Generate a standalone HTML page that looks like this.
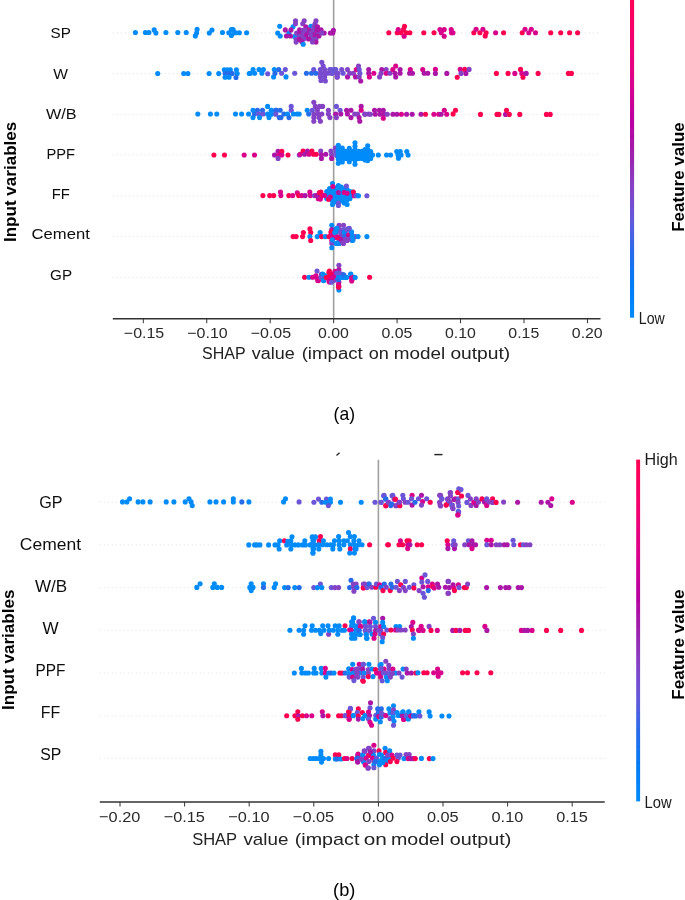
<!DOCTYPE html>
<html><head><meta charset="utf-8"><style>
html,body{margin:0;padding:0;background:#fff;}
body{width:685px;height:900px;overflow:hidden;}
svg{display:block;}
text{font-family:"Liberation Sans",sans-serif;}
</style></head><body>
<svg width="685" height="900" viewBox="0 0 685 900">
<defs><filter id="bl" x="-5%" y="-5%" width="110%" height="110%"><feGaussianBlur stdDeviation="0.45"/></filter><linearGradient id="cbg" x1="0" y1="0" x2="0" y2="1"><stop offset="0.00" stop-color="#ff0051"/><stop offset="0.10" stop-color="#f80067"/><stop offset="0.20" stop-color="#e9007c"/><stop offset="0.30" stop-color="#d40090"/><stop offset="0.40" stop-color="#b900a0"/><stop offset="0.50" stop-color="#9d22ac"/><stop offset="0.60" stop-color="#8542c5"/><stop offset="0.70" stop-color="#6459da"/><stop offset="0.80" stop-color="#266cea"/><stop offset="0.90" stop-color="#007cf5"/><stop offset="1.00" stop-color="#008bfb"/></linearGradient></defs>
<rect width="685" height="900" fill="#fff"/>
<g filter="url(#bl)">
<line x1="112.8" y1="32.8" x2="600.5" y2="32.8" stroke="#d4d4d4" stroke-width="0.7" stroke-dasharray="1 3"/>
<line x1="112.8" y1="73.5" x2="600.5" y2="73.5" stroke="#d4d4d4" stroke-width="0.7" stroke-dasharray="1 3"/>
<line x1="112.8" y1="114.3" x2="600.5" y2="114.3" stroke="#d4d4d4" stroke-width="0.7" stroke-dasharray="1 3"/>
<line x1="112.8" y1="155.0" x2="600.5" y2="155.0" stroke="#d4d4d4" stroke-width="0.7" stroke-dasharray="1 3"/>
<line x1="112.8" y1="195.7" x2="600.5" y2="195.7" stroke="#d4d4d4" stroke-width="0.7" stroke-dasharray="1 3"/>
<line x1="112.8" y1="236.4" x2="600.5" y2="236.4" stroke="#d4d4d4" stroke-width="0.7" stroke-dasharray="1 3"/>
<line x1="112.8" y1="277.2" x2="600.5" y2="277.2" stroke="#d4d4d4" stroke-width="0.7" stroke-dasharray="1 3"/>
<line x1="333.65" y1="-10" x2="333.65" y2="318.7" stroke="#a0a0a0" stroke-width="1.6"/>
<circle cx="135.4" cy="32.5" r="2.55" fill="#008bfb"/>
<circle cx="145.4" cy="32.5" r="2.55" fill="#008bfb"/>
<circle cx="148.9" cy="32.5" r="2.55" fill="#008bfb"/>
<circle cx="154.2" cy="29.9" r="2.55" fill="#008bfb"/>
<circle cx="155.9" cy="33.0" r="2.55" fill="#008bfb"/>
<circle cx="165.9" cy="32.5" r="2.55" fill="#008bfb"/>
<circle cx="177.8" cy="32.5" r="2.55" fill="#008bfb"/>
<circle cx="186.2" cy="32.5" r="2.55" fill="#008bfb"/>
<circle cx="197.1" cy="29.4" r="2.55" fill="#008bfb"/>
<circle cx="196.6" cy="33.0" r="2.55" fill="#008bfb"/>
<circle cx="195.3" cy="35.9" r="2.55" fill="#008bfb"/>
<circle cx="209.3" cy="33.0" r="2.55" fill="#008bfb"/>
<circle cx="212.0" cy="30.0" r="2.55" fill="#008bfb"/>
<circle cx="222.5" cy="32.5" r="2.55" fill="#008bfb"/>
<circle cx="228.8" cy="32.8" r="2.55" fill="#008bfb"/>
<circle cx="231.4" cy="29.6" r="2.55" fill="#008bfb"/>
<circle cx="233.1" cy="29.6" r="2.55" fill="#008bfb"/>
<circle cx="231.4" cy="35.4" r="2.55" fill="#008bfb"/>
<circle cx="234.0" cy="32.8" r="2.55" fill="#008bfb"/>
<circle cx="235.8" cy="32.8" r="2.55" fill="#008bfb"/>
<circle cx="239.3" cy="32.8" r="2.55" fill="#008bfb"/>
<circle cx="246.6" cy="32.8" r="2.55" fill="#008bfb"/>
<circle cx="279.7" cy="26.3" r="2.55" fill="#008bfb"/>
<circle cx="277.7" cy="33.0" r="2.55" fill="#008bfb"/>
<circle cx="280.2" cy="36.0" r="2.55" fill="#008bfb"/>
<circle cx="293.0" cy="26.8" r="2.55" fill="#008bfb"/>
<circle cx="288.9" cy="33.0" r="2.55" fill="#008bfb"/>
<circle cx="294.5" cy="36.5" r="2.55" fill="#008bfb"/>
<circle cx="310.9" cy="26.3" r="2.55" fill="#008bfb"/>
<circle cx="285.3" cy="29.9" r="2.55" fill="#aa17a7"/>
<circle cx="286.4" cy="36.0" r="2.55" fill="#aa17a7"/>
<circle cx="290.4" cy="36.0" r="2.55" fill="#aa17a7"/>
<circle cx="291.0" cy="29.9" r="2.55" fill="#aa17a7"/>
<circle cx="295.5" cy="20.7" r="2.55" fill="#8542c5"/>
<circle cx="295.5" cy="23.8" r="2.55" fill="#8542c5"/>
<circle cx="304.2" cy="20.7" r="2.55" fill="#8542c5"/>
<circle cx="302.7" cy="23.8" r="2.55" fill="#8542c5"/>
<circle cx="316.0" cy="20.7" r="2.55" fill="#8542c5"/>
<circle cx="315.0" cy="23.8" r="2.55" fill="#8542c5"/>
<circle cx="305.8" cy="26.8" r="2.55" fill="#aa17a7"/>
<circle cx="299.6" cy="29.9" r="2.55" fill="#aa17a7"/>
<circle cx="302.7" cy="30.4" r="2.55" fill="#8542c5"/>
<circle cx="308.8" cy="29.9" r="2.55" fill="#aa17a7"/>
<circle cx="296.6" cy="33.0" r="2.55" fill="#8542c5"/>
<circle cx="299.6" cy="33.0" r="2.55" fill="#aa17a7"/>
<circle cx="303.7" cy="33.0" r="2.55" fill="#8542c5"/>
<circle cx="307.3" cy="33.0" r="2.55" fill="#aa17a7"/>
<circle cx="310.9" cy="33.0" r="2.55" fill="#8542c5"/>
<circle cx="315.0" cy="33.0" r="2.55" fill="#aa17a7"/>
<circle cx="318.0" cy="33.0" r="2.55" fill="#8542c5"/>
<circle cx="321.1" cy="29.9" r="2.55" fill="#aa17a7"/>
<circle cx="324.2" cy="33.0" r="2.55" fill="#aa17a7"/>
<circle cx="330.3" cy="33.0" r="2.55" fill="#aa17a7"/>
<circle cx="333.4" cy="30.4" r="2.55" fill="#aa17a7"/>
<circle cx="332.8" cy="33.0" r="2.55" fill="#aa17a7"/>
<circle cx="299.1" cy="36.0" r="2.55" fill="#8542c5"/>
<circle cx="305.8" cy="36.0" r="2.55" fill="#aa17a7"/>
<circle cx="310.9" cy="36.0" r="2.55" fill="#8542c5"/>
<circle cx="315.0" cy="36.0" r="2.55" fill="#aa17a7"/>
<circle cx="296.1" cy="39.6" r="2.55" fill="#8542c5"/>
<circle cx="296.1" cy="42.1" r="2.55" fill="#8542c5"/>
<circle cx="303.7" cy="39.1" r="2.55" fill="#8542c5"/>
<circle cx="301.7" cy="41.6" r="2.55" fill="#aa17a7"/>
<circle cx="311.9" cy="39.1" r="2.55" fill="#8542c5"/>
<circle cx="316.0" cy="39.1" r="2.55" fill="#8542c5"/>
<circle cx="316.0" cy="42.1" r="2.55" fill="#aa17a7"/>
<circle cx="314.0" cy="26.8" r="2.55" fill="#8542c5"/>
<circle cx="317.5" cy="26.8" r="2.55" fill="#aa17a7"/>
<circle cx="319.0" cy="36.0" r="2.55" fill="#aa17a7"/>
<circle cx="321.6" cy="33.0" r="2.55" fill="#8542c5"/>
<circle cx="313.5" cy="30.0" r="2.55" fill="#8542c5"/>
<circle cx="317.0" cy="30.0" r="2.55" fill="#aa17a7"/>
<circle cx="305.0" cy="30.0" r="2.55" fill="#8542c5"/>
<circle cx="301.6" cy="36.2" r="2.55" fill="#8542c5"/>
<circle cx="299.4" cy="39.5" r="2.55" fill="#aa17a7"/>
<circle cx="308.5" cy="39.0" r="2.55" fill="#aa17a7"/>
<circle cx="312.5" cy="42.0" r="2.55" fill="#8542c5"/>
<circle cx="303.2" cy="44.2" r="2.55" fill="#008bfb"/>
<circle cx="388.8" cy="32.8" r="2.55" fill="#ff0051"/>
<circle cx="397.2" cy="32.8" r="2.55" fill="#ff0051"/>
<circle cx="398.2" cy="29.6" r="2.55" fill="#d9008c"/>
<circle cx="401.2" cy="32.8" r="2.55" fill="#ff0051"/>
<circle cx="404.5" cy="26.4" r="2.55" fill="#ff0051"/>
<circle cx="403.4" cy="29.6" r="2.55" fill="#ff0051"/>
<circle cx="404.1" cy="36.2" r="2.55" fill="#d9008c"/>
<circle cx="406.3" cy="32.8" r="2.55" fill="#ff0051"/>
<circle cx="409.9" cy="32.8" r="2.55" fill="#ff0051"/>
<circle cx="423.8" cy="32.8" r="2.55" fill="#ff0051"/>
<circle cx="434.0" cy="32.8" r="2.55" fill="#ff0051"/>
<circle cx="439.9" cy="29.6" r="2.55" fill="#d9008c"/>
<circle cx="441.3" cy="32.8" r="2.55" fill="#d9008c"/>
<circle cx="444.2" cy="29.6" r="2.55" fill="#d9008c"/>
<circle cx="444.2" cy="36.2" r="2.55" fill="#d9008c"/>
<circle cx="451.2" cy="29.6" r="2.55" fill="#d9008c"/>
<circle cx="451.5" cy="32.8" r="2.55" fill="#d9008c"/>
<circle cx="453.0" cy="32.8" r="2.55" fill="#d9008c"/>
<circle cx="473.8" cy="32.7" r="2.55" fill="#ff0051"/>
<circle cx="476.1" cy="29.2" r="2.55" fill="#d9008c"/>
<circle cx="479.9" cy="32.7" r="2.55" fill="#ff0051"/>
<circle cx="482.9" cy="29.2" r="2.55" fill="#d9008c"/>
<circle cx="486.1" cy="32.7" r="2.55" fill="#ff0051"/>
<circle cx="485.2" cy="35.9" r="2.55" fill="#ff0051"/>
<circle cx="495.6" cy="32.7" r="2.55" fill="#d9008c"/>
<circle cx="503.6" cy="32.7" r="2.55" fill="#ff0051"/>
<circle cx="522.2" cy="32.7" r="2.55" fill="#ff0051"/>
<circle cx="525.0" cy="29.2" r="2.55" fill="#d9008c"/>
<circle cx="528.8" cy="32.7" r="2.55" fill="#d9008c"/>
<circle cx="531.3" cy="29.2" r="2.55" fill="#d9008c"/>
<circle cx="535.5" cy="32.7" r="2.55" fill="#d9008c"/>
<circle cx="550.7" cy="32.7" r="2.55" fill="#ff0051"/>
<circle cx="560.7" cy="32.7" r="2.55" fill="#ff0051"/>
<circle cx="569.6" cy="32.7" r="2.55" fill="#ff0051"/>
<circle cx="577.6" cy="32.7" r="2.55" fill="#ff0051"/>
<circle cx="157.7" cy="73.5" r="2.55" fill="#008bfb"/>
<circle cx="183.7" cy="73.5" r="2.55" fill="#008bfb"/>
<circle cx="187.9" cy="73.5" r="2.55" fill="#008bfb"/>
<circle cx="209.1" cy="73.5" r="2.55" fill="#008bfb"/>
<circle cx="218.7" cy="73.5" r="2.55" fill="#008bfb"/>
<circle cx="224.3" cy="69.8" r="2.55" fill="#008bfb"/>
<circle cx="227.5" cy="69.8" r="2.55" fill="#008bfb"/>
<circle cx="230.3" cy="69.8" r="2.55" fill="#008bfb"/>
<circle cx="225.1" cy="73.5" r="2.55" fill="#266cea"/>
<circle cx="229.1" cy="73.5" r="2.55" fill="#266cea"/>
<circle cx="232.3" cy="73.5" r="2.55" fill="#266cea"/>
<circle cx="225.1" cy="77.2" r="2.55" fill="#008bfb"/>
<circle cx="229.1" cy="77.2" r="2.55" fill="#008bfb"/>
<circle cx="236.4" cy="69.8" r="2.55" fill="#008bfb"/>
<circle cx="237.2" cy="73.5" r="2.55" fill="#008bfb"/>
<circle cx="236.0" cy="77.5" r="2.55" fill="#266cea"/>
<circle cx="249.2" cy="73.5" r="2.55" fill="#008bfb"/>
<circle cx="250.2" cy="73.3" r="2.55" fill="#008bfb"/>
<circle cx="253.1" cy="69.6" r="2.55" fill="#008bfb"/>
<circle cx="254.6" cy="73.3" r="2.55" fill="#008bfb"/>
<circle cx="259.0" cy="69.6" r="2.55" fill="#008bfb"/>
<circle cx="261.9" cy="73.3" r="2.55" fill="#008bfb"/>
<circle cx="263.4" cy="69.6" r="2.55" fill="#008bfb"/>
<circle cx="267.7" cy="73.7" r="2.55" fill="#6c54d6"/>
<circle cx="273.6" cy="76.9" r="2.55" fill="#008bfb"/>
<circle cx="274.3" cy="69.6" r="2.55" fill="#008bfb"/>
<circle cx="275.0" cy="73.3" r="2.55" fill="#266cea"/>
<circle cx="278.7" cy="69.6" r="2.55" fill="#266cea"/>
<circle cx="281.6" cy="73.3" r="2.55" fill="#6c54d6"/>
<circle cx="285.3" cy="69.6" r="2.55" fill="#6c54d6"/>
<circle cx="286.0" cy="76.9" r="2.55" fill="#008bfb"/>
<circle cx="294.7" cy="73.3" r="2.55" fill="#6c54d6"/>
<circle cx="306.4" cy="73.3" r="2.55" fill="#266cea"/>
<circle cx="311.5" cy="73.3" r="2.55" fill="#266cea"/>
<circle cx="313.7" cy="69.6" r="2.55" fill="#6c54d6"/>
<circle cx="315.9" cy="73.3" r="2.55" fill="#266cea"/>
<circle cx="321.8" cy="62.3" r="2.55" fill="#794cce"/>
<circle cx="323.2" cy="66.0" r="2.55" fill="#794cce"/>
<circle cx="320.3" cy="69.6" r="2.55" fill="#794cce"/>
<circle cx="324.7" cy="69.6" r="2.55" fill="#794cce"/>
<circle cx="320.3" cy="73.3" r="2.55" fill="#794cce"/>
<circle cx="324.0" cy="73.3" r="2.55" fill="#794cce"/>
<circle cx="327.6" cy="73.3" r="2.55" fill="#794cce"/>
<circle cx="320.3" cy="76.9" r="2.55" fill="#794cce"/>
<circle cx="324.7" cy="76.9" r="2.55" fill="#794cce"/>
<circle cx="321.0" cy="80.5" r="2.55" fill="#794cce"/>
<circle cx="325.4" cy="81.0" r="2.55" fill="#794cce"/>
<circle cx="329.8" cy="69.6" r="2.55" fill="#794cce"/>
<circle cx="331.2" cy="73.3" r="2.55" fill="#794cce"/>
<circle cx="334.9" cy="69.6" r="2.55" fill="#6c54d6"/>
<circle cx="336.4" cy="73.3" r="2.55" fill="#794cce"/>
<circle cx="337.1" cy="76.9" r="2.55" fill="#aa17a7"/>
<circle cx="331.5" cy="69.6" r="2.55" fill="#6c54d6"/>
<circle cx="332.2" cy="73.3" r="2.55" fill="#6c54d6"/>
<circle cx="335.8" cy="69.6" r="2.55" fill="#6c54d6"/>
<circle cx="337.3" cy="76.9" r="2.55" fill="#794cce"/>
<circle cx="338.0" cy="73.3" r="2.55" fill="#794cce"/>
<circle cx="341.7" cy="69.6" r="2.55" fill="#794cce"/>
<circle cx="343.1" cy="73.3" r="2.55" fill="#6c54d6"/>
<circle cx="347.5" cy="69.6" r="2.55" fill="#8542c5"/>
<circle cx="347.5" cy="76.9" r="2.55" fill="#aa17a7"/>
<circle cx="349.7" cy="73.3" r="2.55" fill="#8542c5"/>
<circle cx="353.4" cy="73.3" r="2.55" fill="#8542c5"/>
<circle cx="356.3" cy="69.6" r="2.55" fill="#d9008c"/>
<circle cx="358.5" cy="66.0" r="2.55" fill="#8542c5"/>
<circle cx="359.2" cy="69.6" r="2.55" fill="#6c54d6"/>
<circle cx="359.9" cy="73.3" r="2.55" fill="#6c54d6"/>
<circle cx="355.5" cy="76.9" r="2.55" fill="#aa17a7"/>
<circle cx="359.2" cy="76.9" r="2.55" fill="#8542c5"/>
<circle cx="360.7" cy="81.0" r="2.55" fill="#aa17a7"/>
<circle cx="368.7" cy="69.6" r="2.55" fill="#aa17a7"/>
<circle cx="368.7" cy="73.3" r="2.55" fill="#aa17a7"/>
<circle cx="369.4" cy="76.9" r="2.55" fill="#d9008c"/>
<circle cx="373.8" cy="73.3" r="2.55" fill="#d9008c"/>
<circle cx="379.6" cy="76.9" r="2.55" fill="#8542c5"/>
<circle cx="381.8" cy="69.6" r="2.55" fill="#aa17a7"/>
<circle cx="381.1" cy="73.3" r="2.55" fill="#8542c5"/>
<circle cx="386.2" cy="69.6" r="2.55" fill="#8542c5"/>
<circle cx="386.2" cy="73.3" r="2.55" fill="#d9008c"/>
<circle cx="389.9" cy="73.3" r="2.55" fill="#8542c5"/>
<circle cx="392.8" cy="69.6" r="2.55" fill="#d9008c"/>
<circle cx="395.7" cy="66.0" r="2.55" fill="#d9008c"/>
<circle cx="395.0" cy="73.3" r="2.55" fill="#aa17a7"/>
<circle cx="395.7" cy="76.9" r="2.55" fill="#aa17a7"/>
<circle cx="400.1" cy="69.6" r="2.55" fill="#aa17a7"/>
<circle cx="400.1" cy="73.3" r="2.55" fill="#aa17a7"/>
<circle cx="410.3" cy="69.6" r="2.55" fill="#d9008c"/>
<circle cx="409.6" cy="73.3" r="2.55" fill="#aa17a7"/>
<circle cx="412.5" cy="73.3" r="2.55" fill="#aa17a7"/>
<circle cx="422.7" cy="69.6" r="2.55" fill="#d9008c"/>
<circle cx="424.2" cy="73.3" r="2.55" fill="#aa17a7"/>
<circle cx="427.8" cy="73.3" r="2.55" fill="#aa17a7"/>
<circle cx="435.4" cy="69.4" r="2.55" fill="#d9008c"/>
<circle cx="435.4" cy="73.4" r="2.55" fill="#aa17a7"/>
<circle cx="446.8" cy="73.4" r="2.55" fill="#aa17a7"/>
<circle cx="457.2" cy="77.3" r="2.55" fill="#ff0051"/>
<circle cx="460.2" cy="69.4" r="2.55" fill="#d9008c"/>
<circle cx="461.0" cy="73.4" r="2.55" fill="#8542c5"/>
<circle cx="464.7" cy="69.4" r="2.55" fill="#ff0051"/>
<circle cx="465.9" cy="73.4" r="2.55" fill="#aa17a7"/>
<circle cx="469.1" cy="69.4" r="2.55" fill="#8542c5"/>
<circle cx="496.4" cy="73.4" r="2.55" fill="#ff0051"/>
<circle cx="508.1" cy="73.4" r="2.55" fill="#ff0051"/>
<circle cx="514.8" cy="73.4" r="2.55" fill="#d9008c"/>
<circle cx="520.5" cy="69.4" r="2.55" fill="#ff0051"/>
<circle cx="521.8" cy="73.4" r="2.55" fill="#d9008c"/>
<circle cx="523.0" cy="77.3" r="2.55" fill="#ff0051"/>
<circle cx="526.2" cy="73.4" r="2.55" fill="#aa17a7"/>
<circle cx="538.1" cy="73.4" r="2.55" fill="#ff0051"/>
<circle cx="568.4" cy="73.4" r="2.55" fill="#ff0051"/>
<circle cx="571.4" cy="73.4" r="2.55" fill="#ff0051"/>
<circle cx="197.8" cy="114.0" r="2.55" fill="#008bfb"/>
<circle cx="210.4" cy="114.0" r="2.55" fill="#008bfb"/>
<circle cx="216.8" cy="114.0" r="2.55" fill="#008bfb"/>
<circle cx="235.5" cy="114.0" r="2.55" fill="#008bfb"/>
<circle cx="241.6" cy="114.0" r="2.55" fill="#008bfb"/>
<circle cx="248.6" cy="114.0" r="2.55" fill="#008bfb"/>
<circle cx="253.0" cy="110.3" r="2.55" fill="#008bfb"/>
<circle cx="253.0" cy="117.6" r="2.55" fill="#008bfb"/>
<circle cx="254.5" cy="114.0" r="2.55" fill="#266cea"/>
<circle cx="257.4" cy="110.3" r="2.55" fill="#266cea"/>
<circle cx="258.8" cy="114.0" r="2.55" fill="#6c54d6"/>
<circle cx="259.6" cy="117.6" r="2.55" fill="#008bfb"/>
<circle cx="262.5" cy="110.3" r="2.55" fill="#266cea"/>
<circle cx="263.2" cy="114.0" r="2.55" fill="#6c54d6"/>
<circle cx="267.6" cy="106.4" r="2.55" fill="#008bfb"/>
<circle cx="267.6" cy="114.0" r="2.55" fill="#008bfb"/>
<circle cx="269.0" cy="117.6" r="2.55" fill="#008bfb"/>
<circle cx="271.2" cy="110.3" r="2.55" fill="#008bfb"/>
<circle cx="271.2" cy="114.0" r="2.55" fill="#008bfb"/>
<circle cx="275.6" cy="114.0" r="2.55" fill="#6c54d6"/>
<circle cx="276.4" cy="110.3" r="2.55" fill="#266cea"/>
<circle cx="279.3" cy="117.6" r="2.55" fill="#266cea"/>
<circle cx="271.5" cy="110.3" r="2.55" fill="#008bfb"/>
<circle cx="271.5" cy="114.0" r="2.55" fill="#008bfb"/>
<circle cx="275.8" cy="110.3" r="2.55" fill="#266cea"/>
<circle cx="275.8" cy="114.0" r="2.55" fill="#6c54d6"/>
<circle cx="280.2" cy="110.3" r="2.55" fill="#266cea"/>
<circle cx="281.0" cy="117.6" r="2.55" fill="#266cea"/>
<circle cx="283.9" cy="114.0" r="2.55" fill="#266cea"/>
<circle cx="287.5" cy="114.0" r="2.55" fill="#008bfb"/>
<circle cx="289.0" cy="117.6" r="2.55" fill="#266cea"/>
<circle cx="291.2" cy="106.4" r="2.55" fill="#6c54d6"/>
<circle cx="291.2" cy="110.3" r="2.55" fill="#6c54d6"/>
<circle cx="293.4" cy="114.0" r="2.55" fill="#008bfb"/>
<circle cx="297.0" cy="114.0" r="2.55" fill="#008bfb"/>
<circle cx="299.2" cy="114.0" r="2.55" fill="#008bfb"/>
<circle cx="307.2" cy="110.3" r="2.55" fill="#008bfb"/>
<circle cx="308.7" cy="114.0" r="2.55" fill="#266cea"/>
<circle cx="312.3" cy="110.3" r="2.55" fill="#6c54d6"/>
<circle cx="313.8" cy="102.3" r="2.55" fill="#8542c5"/>
<circle cx="315.3" cy="106.4" r="2.55" fill="#8542c5"/>
<circle cx="313.8" cy="114.0" r="2.55" fill="#8542c5"/>
<circle cx="313.8" cy="117.6" r="2.55" fill="#8542c5"/>
<circle cx="313.8" cy="121.3" r="2.55" fill="#8542c5"/>
<circle cx="317.4" cy="110.3" r="2.55" fill="#8542c5"/>
<circle cx="318.2" cy="114.0" r="2.55" fill="#8542c5"/>
<circle cx="318.9" cy="117.6" r="2.55" fill="#8542c5"/>
<circle cx="319.6" cy="106.4" r="2.55" fill="#8542c5"/>
<circle cx="321.8" cy="114.0" r="2.55" fill="#8542c5"/>
<circle cx="322.6" cy="106.4" r="2.55" fill="#8542c5"/>
<circle cx="320.4" cy="121.3" r="2.55" fill="#8542c5"/>
<circle cx="328.4" cy="110.3" r="2.55" fill="#8542c5"/>
<circle cx="328.4" cy="114.0" r="2.55" fill="#8542c5"/>
<circle cx="329.9" cy="117.6" r="2.55" fill="#8542c5"/>
<circle cx="336.4" cy="106.4" r="2.55" fill="#6c54d6"/>
<circle cx="335.7" cy="114.0" r="2.55" fill="#aa17a7"/>
<circle cx="336.4" cy="117.6" r="2.55" fill="#8542c5"/>
<circle cx="340.1" cy="110.3" r="2.55" fill="#6c54d6"/>
<circle cx="340.8" cy="114.0" r="2.55" fill="#aa17a7"/>
<circle cx="346.6" cy="110.3" r="2.55" fill="#aa17a7"/>
<circle cx="347.4" cy="114.0" r="2.55" fill="#aa17a7"/>
<circle cx="351.0" cy="110.3" r="2.55" fill="#aa17a7"/>
<circle cx="351.0" cy="117.6" r="2.55" fill="#aa17a7"/>
<circle cx="354.7" cy="114.0" r="2.55" fill="#8542c5"/>
<circle cx="357.6" cy="114.0" r="2.55" fill="#8542c5"/>
<circle cx="361.2" cy="106.4" r="2.55" fill="#aa17a7"/>
<circle cx="361.2" cy="110.3" r="2.55" fill="#d9008c"/>
<circle cx="359.8" cy="121.3" r="2.55" fill="#aa17a7"/>
<circle cx="359.1" cy="117.6" r="2.55" fill="#aa17a7"/>
<circle cx="364.9" cy="114.0" r="2.55" fill="#8542c5"/>
<circle cx="368.5" cy="114.0" r="2.55" fill="#8542c5"/>
<circle cx="364.8" cy="114.3" r="2.55" fill="#8542c5"/>
<circle cx="370.4" cy="114.3" r="2.55" fill="#8542c5"/>
<circle cx="374.5" cy="110.3" r="2.55" fill="#aa17a7"/>
<circle cx="375.3" cy="114.3" r="2.55" fill="#aa17a7"/>
<circle cx="379.3" cy="110.3" r="2.55" fill="#aa17a7"/>
<circle cx="380.1" cy="114.3" r="2.55" fill="#aa17a7"/>
<circle cx="383.3" cy="110.3" r="2.55" fill="#aa17a7"/>
<circle cx="384.1" cy="114.3" r="2.55" fill="#aa17a7"/>
<circle cx="383.3" cy="118.3" r="2.55" fill="#d9008c"/>
<circle cx="387.3" cy="114.3" r="2.55" fill="#8542c5"/>
<circle cx="392.9" cy="114.3" r="2.55" fill="#aa17a7"/>
<circle cx="396.9" cy="114.3" r="2.55" fill="#aa17a7"/>
<circle cx="401.4" cy="114.3" r="2.55" fill="#d9008c"/>
<circle cx="406.6" cy="114.3" r="2.55" fill="#aa17a7"/>
<circle cx="412.2" cy="114.3" r="2.55" fill="#aa17a7"/>
<circle cx="421.0" cy="114.3" r="2.55" fill="#aa17a7"/>
<circle cx="425.5" cy="114.3" r="2.55" fill="#ff0051"/>
<circle cx="433.9" cy="114.3" r="2.55" fill="#d9008c"/>
<circle cx="438.7" cy="114.3" r="2.55" fill="#d9008c"/>
<circle cx="441.1" cy="114.3" r="2.55" fill="#aa17a7"/>
<circle cx="444.3" cy="110.3" r="2.55" fill="#d9008c"/>
<circle cx="446.7" cy="114.3" r="2.55" fill="#d9008c"/>
<circle cx="453.1" cy="113.9" r="2.55" fill="#ff0051"/>
<circle cx="455.5" cy="110.3" r="2.55" fill="#ff0051"/>
<circle cx="480.5" cy="114.4" r="2.55" fill="#ff0051"/>
<circle cx="497.0" cy="114.4" r="2.55" fill="#ff0051"/>
<circle cx="498.9" cy="114.4" r="2.55" fill="#ff0051"/>
<circle cx="505.5" cy="114.4" r="2.55" fill="#aa17a7"/>
<circle cx="506.5" cy="110.2" r="2.55" fill="#ff0051"/>
<circle cx="509.3" cy="114.4" r="2.55" fill="#ff0051"/>
<circle cx="519.8" cy="114.4" r="2.55" fill="#ff0051"/>
<circle cx="546.4" cy="114.4" r="2.55" fill="#ff0051"/>
<circle cx="550.2" cy="114.4" r="2.55" fill="#ff0051"/>
<circle cx="213.9" cy="155.0" r="2.55" fill="#ff0051"/>
<circle cx="224.5" cy="155.0" r="2.55" fill="#ff0051"/>
<circle cx="244.2" cy="155.0" r="2.55" fill="#d9008c"/>
<circle cx="254.5" cy="155.0" r="2.55" fill="#d9008c"/>
<circle cx="274.5" cy="155.0" r="2.55" fill="#aa17a7"/>
<circle cx="278.1" cy="151.4" r="2.55" fill="#aa17a7"/>
<circle cx="278.8" cy="155.0" r="2.55" fill="#d9008c"/>
<circle cx="278.1" cy="158.4" r="2.55" fill="#8542c5"/>
<circle cx="281.8" cy="151.4" r="2.55" fill="#ff0051"/>
<circle cx="281.8" cy="155.0" r="2.55" fill="#d9008c"/>
<circle cx="288.0" cy="155.0" r="2.55" fill="#ff0051"/>
<circle cx="299.3" cy="155.0" r="2.55" fill="#8542c5"/>
<circle cx="300.2" cy="154.3" r="2.55" fill="#d9008c"/>
<circle cx="303.1" cy="151.1" r="2.55" fill="#ff0051"/>
<circle cx="304.6" cy="154.3" r="2.55" fill="#aa17a7"/>
<circle cx="307.5" cy="151.1" r="2.55" fill="#aa17a7"/>
<circle cx="309.0" cy="154.3" r="2.55" fill="#d9008c"/>
<circle cx="311.9" cy="151.1" r="2.55" fill="#ff0051"/>
<circle cx="313.4" cy="154.3" r="2.55" fill="#ff0051"/>
<circle cx="316.3" cy="154.3" r="2.55" fill="#ff0051"/>
<circle cx="320.7" cy="151.1" r="2.55" fill="#8542c5"/>
<circle cx="321.4" cy="154.7" r="2.55" fill="#aa17a7"/>
<circle cx="321.4" cy="158.4" r="2.55" fill="#aa17a7"/>
<circle cx="325.8" cy="154.3" r="2.55" fill="#aa17a7"/>
<circle cx="330.9" cy="151.1" r="2.55" fill="#8542c5"/>
<circle cx="331.6" cy="154.7" r="2.55" fill="#8542c5"/>
<circle cx="331.6" cy="158.4" r="2.55" fill="#aa17a7"/>
<circle cx="335.3" cy="148.1" r="2.55" fill="#8542c5"/>
<circle cx="336.0" cy="151.8" r="2.55" fill="#6c54d6"/>
<circle cx="336.7" cy="155.4" r="2.55" fill="#6c54d6"/>
<circle cx="338.3" cy="145.3" r="2.55" fill="#008bfb"/>
<circle cx="338.3" cy="148.8" r="2.55" fill="#008bfb"/>
<circle cx="338.3" cy="152.3" r="2.55" fill="#008bfb"/>
<circle cx="338.3" cy="155.8" r="2.55" fill="#008bfb"/>
<circle cx="338.3" cy="159.3" r="2.55" fill="#008bfb"/>
<circle cx="338.3" cy="163.2" r="2.55" fill="#008bfb"/>
<circle cx="342.3" cy="148.0" r="2.55" fill="#008bfb"/>
<circle cx="342.3" cy="151.5" r="2.55" fill="#008bfb"/>
<circle cx="342.3" cy="155.0" r="2.55" fill="#008bfb"/>
<circle cx="342.3" cy="158.5" r="2.55" fill="#008bfb"/>
<circle cx="342.3" cy="162.0" r="2.55" fill="#008bfb"/>
<circle cx="345.8" cy="151.2" r="2.55" fill="#008bfb"/>
<circle cx="345.8" cy="154.8" r="2.55" fill="#008bfb"/>
<circle cx="345.8" cy="158.4" r="2.55" fill="#008bfb"/>
<circle cx="349.3" cy="148.2" r="2.55" fill="#008bfb"/>
<circle cx="349.3" cy="151.6" r="2.55" fill="#008bfb"/>
<circle cx="349.3" cy="155.0" r="2.55" fill="#008bfb"/>
<circle cx="349.3" cy="158.4" r="2.55" fill="#008bfb"/>
<circle cx="349.3" cy="161.8" r="2.55" fill="#008bfb"/>
<circle cx="352.3" cy="151.2" r="2.55" fill="#008bfb"/>
<circle cx="352.3" cy="154.8" r="2.55" fill="#008bfb"/>
<circle cx="352.3" cy="158.4" r="2.55" fill="#008bfb"/>
<circle cx="355.0" cy="142.7" r="2.55" fill="#008bfb"/>
<circle cx="355.0" cy="146.2" r="2.55" fill="#008bfb"/>
<circle cx="355.0" cy="149.8" r="2.55" fill="#008bfb"/>
<circle cx="355.0" cy="153.3" r="2.55" fill="#008bfb"/>
<circle cx="355.0" cy="156.8" r="2.55" fill="#008bfb"/>
<circle cx="355.0" cy="160.5" r="2.55" fill="#008bfb"/>
<circle cx="355.0" cy="164.2" r="2.55" fill="#008bfb"/>
<circle cx="358.5" cy="151.2" r="2.55" fill="#008bfb"/>
<circle cx="358.5" cy="154.8" r="2.55" fill="#008bfb"/>
<circle cx="358.5" cy="158.4" r="2.55" fill="#008bfb"/>
<circle cx="362.0" cy="151.2" r="2.55" fill="#008bfb"/>
<circle cx="362.0" cy="154.8" r="2.55" fill="#008bfb"/>
<circle cx="362.0" cy="158.4" r="2.55" fill="#008bfb"/>
<circle cx="365.0" cy="149.5" r="2.55" fill="#008bfb"/>
<circle cx="365.0" cy="153.0" r="2.55" fill="#008bfb"/>
<circle cx="365.0" cy="156.5" r="2.55" fill="#008bfb"/>
<circle cx="365.0" cy="160.0" r="2.55" fill="#008bfb"/>
<circle cx="367.7" cy="145.8" r="2.55" fill="#008bfb"/>
<circle cx="367.7" cy="149.5" r="2.55" fill="#008bfb"/>
<circle cx="367.7" cy="153.2" r="2.55" fill="#008bfb"/>
<circle cx="367.7" cy="156.9" r="2.55" fill="#008bfb"/>
<circle cx="367.7" cy="160.6" r="2.55" fill="#008bfb"/>
<circle cx="370.7" cy="151.5" r="2.55" fill="#008bfb"/>
<circle cx="370.7" cy="155.0" r="2.55" fill="#008bfb"/>
<circle cx="370.7" cy="158.5" r="2.55" fill="#008bfb"/>
<circle cx="372.6" cy="155.0" r="2.55" fill="#008bfb"/>
<circle cx="378.3" cy="155.0" r="2.55" fill="#008bfb"/>
<circle cx="386.6" cy="155.0" r="2.55" fill="#008bfb"/>
<circle cx="390.6" cy="155.0" r="2.55" fill="#008bfb"/>
<circle cx="396.7" cy="151.6" r="2.55" fill="#008bfb"/>
<circle cx="400.2" cy="151.6" r="2.55" fill="#008bfb"/>
<circle cx="398.0" cy="155.0" r="2.55" fill="#008bfb"/>
<circle cx="401.1" cy="155.0" r="2.55" fill="#008bfb"/>
<circle cx="398.5" cy="158.2" r="2.55" fill="#008bfb"/>
<circle cx="406.8" cy="151.6" r="2.55" fill="#008bfb"/>
<circle cx="408.1" cy="155.0" r="2.55" fill="#008bfb"/>
<circle cx="262.9" cy="195.6" r="2.55" fill="#ff0051"/>
<circle cx="269.7" cy="195.6" r="2.55" fill="#ff0051"/>
<circle cx="273.7" cy="195.6" r="2.55" fill="#ff0051"/>
<circle cx="280.5" cy="192.1" r="2.55" fill="#d9008c"/>
<circle cx="280.9" cy="195.6" r="2.55" fill="#d9008c"/>
<circle cx="288.8" cy="195.6" r="2.55" fill="#ff0051"/>
<circle cx="292.7" cy="195.6" r="2.55" fill="#d9008c"/>
<circle cx="297.3" cy="192.7" r="2.55" fill="#d9008c"/>
<circle cx="298.6" cy="195.6" r="2.55" fill="#ff0051"/>
<circle cx="301.9" cy="195.6" r="2.55" fill="#d9008c"/>
<circle cx="305.2" cy="195.6" r="2.55" fill="#aa17a7"/>
<circle cx="309.8" cy="192.1" r="2.55" fill="#d9008c"/>
<circle cx="310.4" cy="195.6" r="2.55" fill="#d9008c"/>
<circle cx="314.4" cy="195.6" r="2.55" fill="#8542c5"/>
<circle cx="318.3" cy="195.6" r="2.55" fill="#aa17a7"/>
<circle cx="318.3" cy="198.7" r="2.55" fill="#d9008c"/>
<circle cx="326.7" cy="191.5" r="2.55" fill="#008bfb"/>
<circle cx="326.7" cy="195.0" r="2.55" fill="#008bfb"/>
<circle cx="326.7" cy="198.5" r="2.55" fill="#008bfb"/>
<circle cx="329.6" cy="188.5" r="2.55" fill="#008bfb"/>
<circle cx="329.6" cy="192.0" r="2.55" fill="#008bfb"/>
<circle cx="329.6" cy="195.5" r="2.55" fill="#008bfb"/>
<circle cx="329.6" cy="199.0" r="2.55" fill="#008bfb"/>
<circle cx="332.5" cy="183.5" r="2.55" fill="#008bfb"/>
<circle cx="332.5" cy="190.5" r="2.55" fill="#008bfb"/>
<circle cx="332.5" cy="194.0" r="2.55" fill="#008bfb"/>
<circle cx="332.5" cy="197.5" r="2.55" fill="#008bfb"/>
<circle cx="332.5" cy="201.0" r="2.55" fill="#008bfb"/>
<circle cx="332.5" cy="204.5" r="2.55" fill="#008bfb"/>
<circle cx="335.4" cy="188.0" r="2.55" fill="#008bfb"/>
<circle cx="335.4" cy="191.5" r="2.55" fill="#008bfb"/>
<circle cx="335.4" cy="195.0" r="2.55" fill="#008bfb"/>
<circle cx="335.4" cy="198.5" r="2.55" fill="#008bfb"/>
<circle cx="335.4" cy="202.0" r="2.55" fill="#008bfb"/>
<circle cx="338.4" cy="185.5" r="2.55" fill="#008bfb"/>
<circle cx="338.4" cy="189.0" r="2.55" fill="#008bfb"/>
<circle cx="338.4" cy="196.0" r="2.55" fill="#008bfb"/>
<circle cx="338.4" cy="199.5" r="2.55" fill="#008bfb"/>
<circle cx="341.3" cy="187.0" r="2.55" fill="#008bfb"/>
<circle cx="341.3" cy="190.5" r="2.55" fill="#008bfb"/>
<circle cx="341.3" cy="194.0" r="2.55" fill="#008bfb"/>
<circle cx="341.3" cy="197.5" r="2.55" fill="#008bfb"/>
<circle cx="341.3" cy="201.0" r="2.55" fill="#008bfb"/>
<circle cx="344.2" cy="189.0" r="2.55" fill="#008bfb"/>
<circle cx="344.2" cy="196.0" r="2.55" fill="#008bfb"/>
<circle cx="344.2" cy="199.5" r="2.55" fill="#008bfb"/>
<circle cx="344.2" cy="203.0" r="2.55" fill="#008bfb"/>
<circle cx="347.1" cy="189.5" r="2.55" fill="#008bfb"/>
<circle cx="347.1" cy="196.5" r="2.55" fill="#008bfb"/>
<circle cx="347.1" cy="200.0" r="2.55" fill="#008bfb"/>
<circle cx="347.1" cy="204.5" r="2.55" fill="#008bfb"/>
<circle cx="350.0" cy="191.5" r="2.55" fill="#008bfb"/>
<circle cx="350.0" cy="195.0" r="2.55" fill="#008bfb"/>
<circle cx="350.0" cy="198.5" r="2.55" fill="#008bfb"/>
<circle cx="353.0" cy="192.0" r="2.55" fill="#008bfb"/>
<circle cx="353.0" cy="195.5" r="2.55" fill="#008bfb"/>
<circle cx="356.5" cy="195.5" r="2.55" fill="#008bfb"/>
<circle cx="320.9" cy="192.1" r="2.55" fill="#ff0051"/>
<circle cx="321.8" cy="195.8" r="2.55" fill="#d9008c"/>
<circle cx="320.4" cy="199.1" r="2.55" fill="#d9008c"/>
<circle cx="316.5" cy="195.5" r="2.55" fill="#aa17a7"/>
<circle cx="319.4" cy="192.6" r="2.55" fill="#ff0051"/>
<circle cx="323.0" cy="195.5" r="2.55" fill="#ff0051"/>
<circle cx="324.5" cy="195.5" r="2.55" fill="#d9008c"/>
<circle cx="328.5" cy="199.2" r="2.55" fill="#ff0051"/>
<circle cx="330.3" cy="197.0" r="2.55" fill="#d9008c"/>
<circle cx="332.9" cy="186.5" r="2.55" fill="#d9008c"/>
<circle cx="338.4" cy="192.5" r="2.55" fill="#aa17a7"/>
<circle cx="338.4" cy="203.0" r="2.55" fill="#6c54d6"/>
<circle cx="338.4" cy="205.5" r="2.55" fill="#6c54d6"/>
<circle cx="344.2" cy="192.5" r="2.55" fill="#d9008c"/>
<circle cx="346.4" cy="186.0" r="2.55" fill="#6c54d6"/>
<circle cx="347.1" cy="193.3" r="2.55" fill="#d9008c"/>
<circle cx="353.3" cy="192.1" r="2.55" fill="#ff0051"/>
<circle cx="354.2" cy="195.8" r="2.55" fill="#d9008c"/>
<circle cx="356.2" cy="195.8" r="2.55" fill="#6c54d6"/>
<circle cx="358.5" cy="195.8" r="2.55" fill="#008bfb"/>
<circle cx="366.9" cy="195.8" r="2.55" fill="#6c54d6"/>
<circle cx="293.1" cy="236.6" r="2.55" fill="#ff0051"/>
<circle cx="296.1" cy="236.6" r="2.55" fill="#ff0051"/>
<circle cx="303.4" cy="232.5" r="2.55" fill="#ff0051"/>
<circle cx="302.6" cy="236.6" r="2.55" fill="#ff0051"/>
<circle cx="309.9" cy="228.9" r="2.55" fill="#ff0051"/>
<circle cx="310.7" cy="232.5" r="2.55" fill="#ff0051"/>
<circle cx="309.9" cy="236.6" r="2.55" fill="#008bfb"/>
<circle cx="310.7" cy="240.5" r="2.55" fill="#ff0051"/>
<circle cx="317.2" cy="236.6" r="2.55" fill="#008bfb"/>
<circle cx="320.1" cy="232.5" r="2.55" fill="#008bfb"/>
<circle cx="321.6" cy="236.6" r="2.55" fill="#ff0051"/>
<circle cx="325.3" cy="236.6" r="2.55" fill="#008bfb"/>
<circle cx="328.9" cy="236.6" r="2.55" fill="#ff0051"/>
<circle cx="331.1" cy="232.5" r="2.55" fill="#d9008c"/>
<circle cx="331.8" cy="225.2" r="2.55" fill="#008bfb"/>
<circle cx="331.8" cy="229.6" r="2.55" fill="#aa17a7"/>
<circle cx="331.8" cy="240.5" r="2.55" fill="#d9008c"/>
<circle cx="331.8" cy="243.5" r="2.55" fill="#8542c5"/>
<circle cx="331.8" cy="247.8" r="2.55" fill="#008bfb"/>
<circle cx="336.2" cy="228.9" r="2.55" fill="#008bfb"/>
<circle cx="335.5" cy="233.2" r="2.55" fill="#8542c5"/>
<circle cx="336.2" cy="237.6" r="2.55" fill="#d9008c"/>
<circle cx="336.2" cy="243.5" r="2.55" fill="#008bfb"/>
<circle cx="339.1" cy="225.2" r="2.55" fill="#8542c5"/>
<circle cx="339.9" cy="229.6" r="2.55" fill="#8542c5"/>
<circle cx="339.9" cy="236.6" r="2.55" fill="#d9008c"/>
<circle cx="339.1" cy="243.5" r="2.55" fill="#008bfb"/>
<circle cx="343.5" cy="225.2" r="2.55" fill="#8542c5"/>
<circle cx="344.2" cy="229.6" r="2.55" fill="#6c54d6"/>
<circle cx="345.0" cy="233.2" r="2.55" fill="#008bfb"/>
<circle cx="344.2" cy="238.4" r="2.55" fill="#aa17a7"/>
<circle cx="343.5" cy="243.5" r="2.55" fill="#8542c5"/>
<circle cx="347.9" cy="228.9" r="2.55" fill="#8542c5"/>
<circle cx="348.6" cy="236.6" r="2.55" fill="#8542c5"/>
<circle cx="347.2" cy="240.5" r="2.55" fill="#8542c5"/>
<circle cx="351.5" cy="232.5" r="2.55" fill="#008bfb"/>
<circle cx="352.3" cy="236.6" r="2.55" fill="#008bfb"/>
<circle cx="352.3" cy="240.5" r="2.55" fill="#008bfb"/>
<circle cx="355.2" cy="236.6" r="2.55" fill="#8542c5"/>
<circle cx="358.1" cy="236.6" r="2.55" fill="#008bfb"/>
<circle cx="366.9" cy="236.6" r="2.55" fill="#008bfb"/>
<circle cx="331.1" cy="231.9" r="2.55" fill="#ff0051"/>
<circle cx="331.8" cy="235.5" r="2.55" fill="#d9008c"/>
<circle cx="334.7" cy="232.6" r="2.55" fill="#008bfb"/>
<circle cx="336.9" cy="228.2" r="2.55" fill="#008bfb"/>
<circle cx="336.2" cy="231.9" r="2.55" fill="#008bfb"/>
<circle cx="333.2" cy="237.7" r="2.55" fill="#d9008c"/>
<circle cx="332.5" cy="239.9" r="2.55" fill="#008bfb"/>
<circle cx="336.9" cy="237.0" r="2.55" fill="#d9008c"/>
<circle cx="339.1" cy="239.2" r="2.55" fill="#ff0051"/>
<circle cx="337.6" cy="242.8" r="2.55" fill="#008bfb"/>
<circle cx="339.1" cy="243.5" r="2.55" fill="#008bfb"/>
<circle cx="340.5" cy="232.6" r="2.55" fill="#6c54d6"/>
<circle cx="342.0" cy="234.8" r="2.55" fill="#8542c5"/>
<circle cx="341.3" cy="239.9" r="2.55" fill="#aa17a7"/>
<circle cx="342.7" cy="242.8" r="2.55" fill="#8542c5"/>
<circle cx="344.2" cy="232.6" r="2.55" fill="#008bfb"/>
<circle cx="344.9" cy="236.2" r="2.55" fill="#266cea"/>
<circle cx="345.7" cy="239.2" r="2.55" fill="#8542c5"/>
<circle cx="347.1" cy="229.7" r="2.55" fill="#6c54d6"/>
<circle cx="348.6" cy="234.8" r="2.55" fill="#d9008c"/>
<circle cx="348.6" cy="239.2" r="2.55" fill="#8542c5"/>
<circle cx="351.5" cy="231.9" r="2.55" fill="#008bfb"/>
<circle cx="352.2" cy="236.2" r="2.55" fill="#008bfb"/>
<circle cx="353.0" cy="239.9" r="2.55" fill="#008bfb"/>
<circle cx="349.3" cy="228.2" r="2.55" fill="#6c54d6"/>
<circle cx="304.6" cy="277.2" r="2.55" fill="#ff0051"/>
<circle cx="309.0" cy="277.2" r="2.55" fill="#008bfb"/>
<circle cx="312.6" cy="277.2" r="2.55" fill="#d9008c"/>
<circle cx="317.0" cy="271.1" r="2.55" fill="#6c54d6"/>
<circle cx="316.3" cy="277.2" r="2.55" fill="#d9008c"/>
<circle cx="317.7" cy="280.5" r="2.55" fill="#d9008c"/>
<circle cx="321.4" cy="274.2" r="2.55" fill="#8542c5"/>
<circle cx="322.8" cy="277.2" r="2.55" fill="#008bfb"/>
<circle cx="323.6" cy="280.5" r="2.55" fill="#008bfb"/>
<circle cx="325.8" cy="277.2" r="2.55" fill="#ff0051"/>
<circle cx="329.4" cy="271.1" r="2.55" fill="#ff0051"/>
<circle cx="330.1" cy="277.2" r="2.55" fill="#d9008c"/>
<circle cx="329.4" cy="282.0" r="2.55" fill="#d9008c"/>
<circle cx="332.3" cy="274.2" r="2.55" fill="#d9008c"/>
<circle cx="333.1" cy="277.2" r="2.55" fill="#d9008c"/>
<circle cx="333.8" cy="280.5" r="2.55" fill="#8542c5"/>
<circle cx="336.7" cy="277.2" r="2.55" fill="#008bfb"/>
<circle cx="338.9" cy="265.2" r="2.55" fill="#8542c5"/>
<circle cx="338.9" cy="269.6" r="2.55" fill="#aa17a7"/>
<circle cx="338.9" cy="273.2" r="2.55" fill="#6c54d6"/>
<circle cx="339.6" cy="277.2" r="2.55" fill="#008bfb"/>
<circle cx="338.9" cy="282.0" r="2.55" fill="#aa17a7"/>
<circle cx="338.9" cy="286.4" r="2.55" fill="#d9008c"/>
<circle cx="338.9" cy="290.0" r="2.55" fill="#008bfb"/>
<circle cx="341.8" cy="274.2" r="2.55" fill="#6c54d6"/>
<circle cx="342.6" cy="277.2" r="2.55" fill="#008bfb"/>
<circle cx="346.2" cy="277.2" r="2.55" fill="#008bfb"/>
<circle cx="350.6" cy="274.2" r="2.55" fill="#008bfb"/>
<circle cx="351.3" cy="277.2" r="2.55" fill="#d9008c"/>
<circle cx="352.0" cy="279.8" r="2.55" fill="#d9008c"/>
<circle cx="354.2" cy="277.2" r="2.55" fill="#008bfb"/>
<circle cx="369.6" cy="277.2" r="2.55" fill="#ff0051"/>
<circle cx="315.8" cy="275.8" r="2.55" fill="#d9008c"/>
<circle cx="318.4" cy="280.6" r="2.55" fill="#d9008c"/>
<circle cx="321.0" cy="277.5" r="2.55" fill="#6c54d6"/>
<circle cx="322.8" cy="274.0" r="2.55" fill="#008bfb"/>
<circle cx="323.6" cy="280.6" r="2.55" fill="#008bfb"/>
<circle cx="325.4" cy="275.8" r="2.55" fill="#008bfb"/>
<circle cx="326.3" cy="277.5" r="2.55" fill="#ff0051"/>
<circle cx="328.9" cy="272.3" r="2.55" fill="#ff0051"/>
<circle cx="329.8" cy="275.8" r="2.55" fill="#ff0051"/>
<circle cx="328.9" cy="281.0" r="2.55" fill="#d9008c"/>
<circle cx="331.5" cy="274.9" r="2.55" fill="#ff0051"/>
<circle cx="332.0" cy="278.4" r="2.55" fill="#d9008c"/>
<circle cx="331.5" cy="282.3" r="2.55" fill="#6c54d6"/>
<circle cx="334.2" cy="275.8" r="2.55" fill="#d9008c"/>
<circle cx="335.0" cy="271.4" r="2.55" fill="#d9008c"/>
<circle cx="336.8" cy="273.1" r="2.55" fill="#6c54d6"/>
<circle cx="338.5" cy="277.5" r="2.55" fill="#008bfb"/>
<circle cx="338.5" cy="280.1" r="2.55" fill="#266cea"/>
<circle cx="338.5" cy="284.5" r="2.55" fill="#d9008c"/>
<circle cx="338.5" cy="287.2" r="2.55" fill="#ff0051"/>
<circle cx="341.2" cy="274.0" r="2.55" fill="#6c54d6"/>
<circle cx="341.2" cy="277.5" r="2.55" fill="#008bfb"/>
<circle cx="343.8" cy="277.5" r="2.55" fill="#008bfb"/>
<circle cx="343.8" cy="274.9" r="2.55" fill="#266cea"/>
<circle cx="346.4" cy="277.5" r="2.55" fill="#008bfb"/>
<circle cx="350.8" cy="274.0" r="2.55" fill="#008bfb"/>
<circle cx="352.6" cy="277.5" r="2.55" fill="#d9008c"/>
<circle cx="351.7" cy="281.0" r="2.55" fill="#d9008c"/>
<circle cx="355.2" cy="277.5" r="2.55" fill="#008bfb"/>
<line x1="112.8" y1="318.7" x2="600.5" y2="318.7" stroke="#333333" stroke-width="1.4"/>
<line x1="143.30" y1="318.7" x2="143.30" y2="323.2" stroke="#333333" stroke-width="1"/>
<text x="123.80" y="337.80" font-size="14.8" fill="#2a2a2a" textLength="40.44" lengthAdjust="spacingAndGlyphs">−0.15</text>
<line x1="206.75" y1="318.7" x2="206.75" y2="323.2" stroke="#333333" stroke-width="1"/>
<text x="187.25" y="337.80" font-size="14.8" fill="#2a2a2a" textLength="40.44" lengthAdjust="spacingAndGlyphs">−0.10</text>
<line x1="270.20" y1="318.7" x2="270.20" y2="323.2" stroke="#333333" stroke-width="1"/>
<text x="250.70" y="337.80" font-size="14.8" fill="#2a2a2a" textLength="40.44" lengthAdjust="spacingAndGlyphs">−0.05</text>
<line x1="333.65" y1="318.7" x2="333.65" y2="323.2" stroke="#333333" stroke-width="1"/>
<text x="318.02" y="337.80" font-size="14.8" fill="#2a2a2a" textLength="30.89" lengthAdjust="spacingAndGlyphs">0.00</text>
<line x1="397.10" y1="318.7" x2="397.10" y2="323.2" stroke="#333333" stroke-width="1"/>
<text x="381.47" y="337.80" font-size="14.8" fill="#2a2a2a" textLength="30.89" lengthAdjust="spacingAndGlyphs">0.05</text>
<line x1="460.55" y1="318.7" x2="460.55" y2="323.2" stroke="#333333" stroke-width="1"/>
<text x="444.92" y="337.80" font-size="14.8" fill="#2a2a2a" textLength="30.89" lengthAdjust="spacingAndGlyphs">0.10</text>
<line x1="524.00" y1="318.7" x2="524.00" y2="323.2" stroke="#333333" stroke-width="1"/>
<text x="508.37" y="337.80" font-size="14.8" fill="#2a2a2a" textLength="30.89" lengthAdjust="spacingAndGlyphs">0.15</text>
<line x1="587.45" y1="318.7" x2="587.45" y2="323.2" stroke="#333333" stroke-width="1"/>
<text x="571.82" y="337.80" font-size="14.8" fill="#2a2a2a" textLength="30.89" lengthAdjust="spacingAndGlyphs">0.20</text>
<text x="202.08" y="359.20" font-size="15.6" fill="#222222" textLength="43.57" lengthAdjust="spacingAndGlyphs">SHAP</text>
<text x="251.81" y="359.20" font-size="15.6" fill="#222222" textLength="42.91" lengthAdjust="spacingAndGlyphs">value</text>
<text x="301.68" y="359.20" font-size="15.6" fill="#222222" textLength="61.07" lengthAdjust="spacingAndGlyphs">(impact</text>
<text x="368.78" y="359.20" font-size="15.6" fill="#222222" textLength="20.14" lengthAdjust="spacingAndGlyphs">on</text>
<text x="393.77" y="359.20" font-size="15.6" fill="#222222" textLength="51.43" lengthAdjust="spacingAndGlyphs">model</text>
<text x="450.43" y="359.20" font-size="15.6" fill="#222222" textLength="59.78" lengthAdjust="spacingAndGlyphs">output)</text>
<text x="50.61" y="38.40" font-size="15.2" fill="#111111" textLength="20.31" lengthAdjust="spacingAndGlyphs">SP</text>
<text x="53.32" y="78.70" font-size="15.2" fill="#111111" textLength="14.74" lengthAdjust="spacingAndGlyphs">W</text>
<text x="45.92" y="118.70" font-size="15.2" fill="#111111" textLength="30.65" lengthAdjust="spacingAndGlyphs">W/B</text>
<text x="46.53" y="158.90" font-size="15.2" fill="#111111" textLength="28.56" lengthAdjust="spacingAndGlyphs">PPF</text>
<text x="51.71" y="199.20" font-size="15.2" fill="#111111" textLength="18.10" lengthAdjust="spacingAndGlyphs">FF</text>
<text x="31.57" y="239.00" font-size="15.2" fill="#111111" textLength="58.24" lengthAdjust="spacingAndGlyphs">Cement</text>
<text x="50.04" y="279.60" font-size="15.2" fill="#111111" textLength="22.02" lengthAdjust="spacingAndGlyphs">GP</text>
<text transform="translate(16.00,241.00) rotate(-90)" x="-1.11" y="0" font-size="17.2" font-weight="bold" fill="#000" textLength="120.44" lengthAdjust="spacingAndGlyphs">Input variables</text>
<rect x="630" y="-8" width="4.1" height="325.7" fill="url(#cbg)"/>
<text x="637.71" y="-3.00" font-size="16.0" fill="#1a1a1a" textLength="33.17" lengthAdjust="spacingAndGlyphs">High</text>
<text x="638.87" y="323.90" font-size="16.0" fill="#1a1a1a" textLength="25.92" lengthAdjust="spacingAndGlyphs">Low</text>
<text transform="translate(683.80,230.70) rotate(-90)" x="-1.10" y="0" font-size="17.2" font-weight="bold" fill="#000" textLength="109.54" lengthAdjust="spacingAndGlyphs">Feature value</text>
<line x1="99.8" y1="502.2" x2="604.7" y2="502.2" stroke="#d4d4d4" stroke-width="0.7" stroke-dasharray="1 3"/>
<line x1="99.8" y1="544.9" x2="604.7" y2="544.9" stroke="#d4d4d4" stroke-width="0.7" stroke-dasharray="1 3"/>
<line x1="99.8" y1="587.6" x2="604.7" y2="587.6" stroke="#d4d4d4" stroke-width="0.7" stroke-dasharray="1 3"/>
<line x1="99.8" y1="630.3" x2="604.7" y2="630.3" stroke="#d4d4d4" stroke-width="0.7" stroke-dasharray="1 3"/>
<line x1="99.8" y1="673.0" x2="604.7" y2="673.0" stroke="#d4d4d4" stroke-width="0.7" stroke-dasharray="1 3"/>
<line x1="99.8" y1="715.7" x2="604.7" y2="715.7" stroke="#d4d4d4" stroke-width="0.7" stroke-dasharray="1 3"/>
<line x1="99.8" y1="758.4" x2="604.7" y2="758.4" stroke="#d4d4d4" stroke-width="0.7" stroke-dasharray="1 3"/>
<line x1="378.4" y1="459.7" x2="378.4" y2="802.0" stroke="#a0a0a0" stroke-width="1.6"/>
<circle cx="122.5" cy="501.9" r="2.55" fill="#008bfb"/>
<circle cx="126.9" cy="501.9" r="2.55" fill="#008bfb"/>
<circle cx="129.6" cy="498.7" r="2.55" fill="#008bfb"/>
<circle cx="138.1" cy="501.9" r="2.55" fill="#008bfb"/>
<circle cx="142.9" cy="501.9" r="2.55" fill="#008bfb"/>
<circle cx="150.1" cy="501.9" r="2.55" fill="#008bfb"/>
<circle cx="166.2" cy="501.9" r="2.55" fill="#008bfb"/>
<circle cx="173.9" cy="501.9" r="2.55" fill="#008bfb"/>
<circle cx="185.2" cy="501.9" r="2.55" fill="#008bfb"/>
<circle cx="189.0" cy="498.7" r="2.55" fill="#008bfb"/>
<circle cx="191.1" cy="501.9" r="2.55" fill="#008bfb"/>
<circle cx="192.2" cy="505.6" r="2.55" fill="#008bfb"/>
<circle cx="209.9" cy="501.9" r="2.55" fill="#008bfb"/>
<circle cx="216.0" cy="501.9" r="2.55" fill="#008bfb"/>
<circle cx="223.6" cy="501.9" r="2.55" fill="#008bfb"/>
<circle cx="233.3" cy="498.7" r="2.55" fill="#008bfb"/>
<circle cx="233.3" cy="501.9" r="2.55" fill="#008bfb"/>
<circle cx="241.8" cy="501.9" r="2.55" fill="#266cea"/>
<circle cx="248.9" cy="501.9" r="2.55" fill="#008bfb"/>
<circle cx="283.6" cy="501.9" r="2.55" fill="#008bfb"/>
<circle cx="285.5" cy="498.7" r="2.55" fill="#008bfb"/>
<circle cx="299.1" cy="501.9" r="2.55" fill="#6c54d6"/>
<circle cx="313.9" cy="502.3" r="2.55" fill="#6c54d6"/>
<circle cx="318.5" cy="499.1" r="2.55" fill="#6c54d6"/>
<circle cx="321.8" cy="502.3" r="2.55" fill="#266cea"/>
<circle cx="326.4" cy="499.1" r="2.55" fill="#6c54d6"/>
<circle cx="325.8" cy="502.3" r="2.55" fill="#008bfb"/>
<circle cx="330.4" cy="499.1" r="2.55" fill="#008bfb"/>
<circle cx="330.4" cy="502.3" r="2.55" fill="#008bfb"/>
<circle cx="328.4" cy="505.6" r="2.55" fill="#6c54d6"/>
<circle cx="340.5" cy="502.3" r="2.55" fill="#008bfb"/>
<circle cx="361.2" cy="502.3" r="2.55" fill="#008bfb"/>
<circle cx="375.0" cy="502.3" r="2.55" fill="#6c54d6"/>
<circle cx="381.0" cy="502.3" r="2.55" fill="#6c54d6"/>
<circle cx="383.6" cy="495.8" r="2.55" fill="#6c54d6"/>
<circle cx="385.5" cy="499.1" r="2.55" fill="#266cea"/>
<circle cx="385.9" cy="505.6" r="2.55" fill="#ff0051"/>
<circle cx="388.8" cy="502.3" r="2.55" fill="#8542c5"/>
<circle cx="390.8" cy="505.6" r="2.55" fill="#266cea"/>
<circle cx="392.1" cy="495.8" r="2.55" fill="#6c54d6"/>
<circle cx="394.1" cy="499.1" r="2.55" fill="#8542c5"/>
<circle cx="395.4" cy="499.1" r="2.55" fill="#ff0051"/>
<circle cx="396.1" cy="505.6" r="2.55" fill="#8542c5"/>
<circle cx="399.3" cy="502.3" r="2.55" fill="#d9008c"/>
<circle cx="381.2" cy="502.2" r="2.55" fill="#6c54d6"/>
<circle cx="384.1" cy="495.2" r="2.55" fill="#6c54d6"/>
<circle cx="385.8" cy="498.7" r="2.55" fill="#266cea"/>
<circle cx="385.8" cy="505.7" r="2.55" fill="#ff0051"/>
<circle cx="388.2" cy="502.2" r="2.55" fill="#8542c5"/>
<circle cx="391.7" cy="504.0" r="2.55" fill="#266cea"/>
<circle cx="392.8" cy="495.2" r="2.55" fill="#6c54d6"/>
<circle cx="395.2" cy="499.3" r="2.55" fill="#ff0051"/>
<circle cx="395.8" cy="505.7" r="2.55" fill="#8542c5"/>
<circle cx="399.9" cy="505.7" r="2.55" fill="#ff0051"/>
<circle cx="399.3" cy="502.2" r="2.55" fill="#8542c5"/>
<circle cx="402.8" cy="495.2" r="2.55" fill="#6c54d6"/>
<circle cx="403.4" cy="498.7" r="2.55" fill="#6c54d6"/>
<circle cx="405.1" cy="502.2" r="2.55" fill="#8542c5"/>
<circle cx="408.0" cy="502.2" r="2.55" fill="#6c54d6"/>
<circle cx="412.1" cy="495.2" r="2.55" fill="#d9008c"/>
<circle cx="411.5" cy="498.7" r="2.55" fill="#6c54d6"/>
<circle cx="412.1" cy="505.1" r="2.55" fill="#aa17a7"/>
<circle cx="415.0" cy="502.2" r="2.55" fill="#266cea"/>
<circle cx="418.5" cy="498.7" r="2.55" fill="#6c54d6"/>
<circle cx="421.5" cy="495.2" r="2.55" fill="#aa17a7"/>
<circle cx="422.6" cy="501.6" r="2.55" fill="#d9008c"/>
<circle cx="421.5" cy="505.1" r="2.55" fill="#8542c5"/>
<circle cx="426.7" cy="498.7" r="2.55" fill="#6c54d6"/>
<circle cx="430.2" cy="502.2" r="2.55" fill="#ff0051"/>
<circle cx="439.6" cy="495.2" r="2.55" fill="#8542c5"/>
<circle cx="439.6" cy="502.2" r="2.55" fill="#8542c5"/>
<circle cx="440.1" cy="505.1" r="2.55" fill="#8542c5"/>
<circle cx="441.9" cy="498.7" r="2.55" fill="#6c54d6"/>
<circle cx="446.0" cy="505.1" r="2.55" fill="#ff0051"/>
<circle cx="447.7" cy="498.7" r="2.55" fill="#8542c5"/>
<circle cx="450.1" cy="492.8" r="2.55" fill="#8542c5"/>
<circle cx="449.5" cy="502.2" r="2.55" fill="#aa17a7"/>
<circle cx="452.4" cy="505.1" r="2.55" fill="#8542c5"/>
<circle cx="453.0" cy="508.6" r="2.55" fill="#8542c5"/>
<circle cx="455.3" cy="498.7" r="2.55" fill="#d9008c"/>
<circle cx="457.7" cy="492.3" r="2.55" fill="#ff0051"/>
<circle cx="458.8" cy="488.8" r="2.55" fill="#6c54d6"/>
<circle cx="458.2" cy="511.5" r="2.55" fill="#266cea"/>
<circle cx="457.7" cy="515.0" r="2.55" fill="#d9008c"/>
<circle cx="440.6" cy="495.4" r="2.55" fill="#8542c5"/>
<circle cx="441.8" cy="498.9" r="2.55" fill="#6c54d6"/>
<circle cx="440.6" cy="506.0" r="2.55" fill="#8542c5"/>
<circle cx="446.4" cy="504.8" r="2.55" fill="#ff0051"/>
<circle cx="447.6" cy="499.5" r="2.55" fill="#8542c5"/>
<circle cx="450.5" cy="492.5" r="2.55" fill="#8542c5"/>
<circle cx="450.5" cy="496.0" r="2.55" fill="#8542c5"/>
<circle cx="449.3" cy="501.3" r="2.55" fill="#8542c5"/>
<circle cx="451.7" cy="505.4" r="2.55" fill="#6c54d6"/>
<circle cx="452.8" cy="508.3" r="2.55" fill="#8542c5"/>
<circle cx="454.0" cy="499.5" r="2.55" fill="#aa17a7"/>
<circle cx="458.1" cy="492.5" r="2.55" fill="#ff0051"/>
<circle cx="458.1" cy="498.9" r="2.55" fill="#6c54d6"/>
<circle cx="458.1" cy="502.4" r="2.55" fill="#8542c5"/>
<circle cx="458.7" cy="506.0" r="2.55" fill="#6c54d6"/>
<circle cx="458.7" cy="511.8" r="2.55" fill="#6c54d6"/>
<circle cx="458.1" cy="514.7" r="2.55" fill="#d9008c"/>
<circle cx="461.0" cy="489.6" r="2.55" fill="#6c54d6"/>
<circle cx="461.6" cy="496.0" r="2.55" fill="#ff0051"/>
<circle cx="468.0" cy="495.4" r="2.55" fill="#6c54d6"/>
<circle cx="466.9" cy="502.4" r="2.55" fill="#6c54d6"/>
<circle cx="470.4" cy="498.9" r="2.55" fill="#8542c5"/>
<circle cx="471.0" cy="505.4" r="2.55" fill="#8542c5"/>
<circle cx="473.9" cy="502.4" r="2.55" fill="#d9008c"/>
<circle cx="476.2" cy="498.9" r="2.55" fill="#8542c5"/>
<circle cx="476.2" cy="505.4" r="2.55" fill="#aa17a7"/>
<circle cx="478.5" cy="501.9" r="2.55" fill="#8542c5"/>
<circle cx="482.0" cy="498.9" r="2.55" fill="#ff0051"/>
<circle cx="484.4" cy="501.9" r="2.55" fill="#aa17a7"/>
<circle cx="486.7" cy="498.9" r="2.55" fill="#6c54d6"/>
<circle cx="486.7" cy="505.4" r="2.55" fill="#d9008c"/>
<circle cx="489.1" cy="501.9" r="2.55" fill="#8542c5"/>
<circle cx="492.6" cy="498.9" r="2.55" fill="#ff0051"/>
<circle cx="492.6" cy="502.4" r="2.55" fill="#8542c5"/>
<circle cx="496.1" cy="502.4" r="2.55" fill="#ff0051"/>
<circle cx="503.6" cy="502.1" r="2.55" fill="#8542c5"/>
<circle cx="517.6" cy="502.2" r="2.55" fill="#aa17a7"/>
<circle cx="541.2" cy="502.2" r="2.55" fill="#aa17a7"/>
<circle cx="547.9" cy="502.2" r="2.55" fill="#aa17a7"/>
<circle cx="551.8" cy="498.7" r="2.55" fill="#d9008c"/>
<circle cx="550.8" cy="505.5" r="2.55" fill="#aa17a7"/>
<circle cx="572.3" cy="502.2" r="2.55" fill="#d9008c"/>
<circle cx="248.8" cy="544.9" r="2.55" fill="#008bfb"/>
<circle cx="254.6" cy="544.9" r="2.55" fill="#008bfb"/>
<circle cx="256.9" cy="544.9" r="2.55" fill="#008bfb"/>
<circle cx="259.9" cy="544.9" r="2.55" fill="#008bfb"/>
<circle cx="268.6" cy="544.9" r="2.55" fill="#008bfb"/>
<circle cx="275.0" cy="544.9" r="2.55" fill="#008bfb"/>
<circle cx="278.0" cy="544.9" r="2.55" fill="#008bfb"/>
<circle cx="279.7" cy="540.8" r="2.55" fill="#008bfb"/>
<circle cx="279.1" cy="549.0" r="2.55" fill="#008bfb"/>
<circle cx="284.4" cy="540.8" r="2.55" fill="#ff0051"/>
<circle cx="286.7" cy="544.9" r="2.55" fill="#008bfb"/>
<circle cx="287.9" cy="541.4" r="2.55" fill="#008bfb"/>
<circle cx="292.0" cy="536.7" r="2.55" fill="#008bfb"/>
<circle cx="290.8" cy="540.8" r="2.55" fill="#008bfb"/>
<circle cx="291.4" cy="544.9" r="2.55" fill="#008bfb"/>
<circle cx="290.8" cy="549.0" r="2.55" fill="#008bfb"/>
<circle cx="294.9" cy="544.9" r="2.55" fill="#008bfb"/>
<circle cx="298.4" cy="544.9" r="2.55" fill="#008bfb"/>
<circle cx="302.5" cy="544.9" r="2.55" fill="#008bfb"/>
<circle cx="304.8" cy="540.8" r="2.55" fill="#008bfb"/>
<circle cx="305.4" cy="544.9" r="2.55" fill="#008bfb"/>
<circle cx="310.1" cy="544.9" r="2.55" fill="#008bfb"/>
<circle cx="312.4" cy="536.7" r="2.55" fill="#008bfb"/>
<circle cx="313.0" cy="540.8" r="2.55" fill="#008bfb"/>
<circle cx="313.6" cy="544.9" r="2.55" fill="#008bfb"/>
<circle cx="313.0" cy="549.0" r="2.55" fill="#008bfb"/>
<circle cx="313.0" cy="553.0" r="2.55" fill="#008bfb"/>
<circle cx="315.3" cy="536.7" r="2.55" fill="#008bfb"/>
<circle cx="318.2" cy="544.9" r="2.55" fill="#008bfb"/>
<circle cx="312.3" cy="537.2" r="2.55" fill="#008bfb"/>
<circle cx="315.3" cy="537.2" r="2.55" fill="#008bfb"/>
<circle cx="311.2" cy="544.8" r="2.55" fill="#008bfb"/>
<circle cx="313.5" cy="540.7" r="2.55" fill="#008bfb"/>
<circle cx="314.7" cy="544.8" r="2.55" fill="#008bfb"/>
<circle cx="313.5" cy="548.9" r="2.55" fill="#008bfb"/>
<circle cx="312.9" cy="552.9" r="2.55" fill="#008bfb"/>
<circle cx="320.5" cy="536.6" r="2.55" fill="#ff0051"/>
<circle cx="319.3" cy="540.7" r="2.55" fill="#ff0051"/>
<circle cx="318.8" cy="544.8" r="2.55" fill="#008bfb"/>
<circle cx="318.8" cy="548.9" r="2.55" fill="#008bfb"/>
<circle cx="323.4" cy="540.7" r="2.55" fill="#008bfb"/>
<circle cx="322.8" cy="544.8" r="2.55" fill="#008bfb"/>
<circle cx="326.9" cy="544.8" r="2.55" fill="#008bfb"/>
<circle cx="330.4" cy="544.8" r="2.55" fill="#008bfb"/>
<circle cx="334.5" cy="540.7" r="2.55" fill="#008bfb"/>
<circle cx="333.4" cy="544.8" r="2.55" fill="#008bfb"/>
<circle cx="332.8" cy="548.9" r="2.55" fill="#008bfb"/>
<circle cx="338.6" cy="536.6" r="2.55" fill="#008bfb"/>
<circle cx="339.2" cy="540.7" r="2.55" fill="#008bfb"/>
<circle cx="339.2" cy="544.8" r="2.55" fill="#008bfb"/>
<circle cx="339.8" cy="548.9" r="2.55" fill="#008bfb"/>
<circle cx="343.9" cy="540.7" r="2.55" fill="#008bfb"/>
<circle cx="343.9" cy="544.8" r="2.55" fill="#008bfb"/>
<circle cx="348.5" cy="532.5" r="2.55" fill="#008bfb"/>
<circle cx="350.3" cy="536.6" r="2.55" fill="#008bfb"/>
<circle cx="347.4" cy="540.7" r="2.55" fill="#008bfb"/>
<circle cx="350.3" cy="544.8" r="2.55" fill="#008bfb"/>
<circle cx="350.3" cy="548.9" r="2.55" fill="#ff0051"/>
<circle cx="349.7" cy="553.0" r="2.55" fill="#008bfb"/>
<circle cx="354.4" cy="536.6" r="2.55" fill="#008bfb"/>
<circle cx="353.8" cy="540.7" r="2.55" fill="#008bfb"/>
<circle cx="354.4" cy="544.8" r="2.55" fill="#008bfb"/>
<circle cx="355.0" cy="548.9" r="2.55" fill="#008bfb"/>
<circle cx="354.4" cy="553.0" r="2.55" fill="#008bfb"/>
<circle cx="359.0" cy="540.7" r="2.55" fill="#008bfb"/>
<circle cx="358.5" cy="544.8" r="2.55" fill="#008bfb"/>
<circle cx="356.1" cy="548.9" r="2.55" fill="#008bfb"/>
<circle cx="362.0" cy="544.8" r="2.55" fill="#008bfb"/>
<circle cx="369.6" cy="544.8" r="2.55" fill="#ff0051"/>
<circle cx="387.7" cy="544.8" r="2.55" fill="#ff0051"/>
<circle cx="388.5" cy="544.7" r="2.55" fill="#ff0051"/>
<circle cx="399.0" cy="544.7" r="2.55" fill="#ff0051"/>
<circle cx="400.4" cy="540.8" r="2.55" fill="#d9008c"/>
<circle cx="402.6" cy="544.7" r="2.55" fill="#ff0051"/>
<circle cx="407.0" cy="540.8" r="2.55" fill="#ff0051"/>
<circle cx="409.2" cy="540.8" r="2.55" fill="#ff0051"/>
<circle cx="407.7" cy="544.7" r="2.55" fill="#d9008c"/>
<circle cx="409.9" cy="544.7" r="2.55" fill="#aa17a7"/>
<circle cx="407.7" cy="548.6" r="2.55" fill="#d9008c"/>
<circle cx="417.2" cy="544.7" r="2.55" fill="#ff0051"/>
<circle cx="421.6" cy="544.7" r="2.55" fill="#ff0051"/>
<circle cx="447.2" cy="540.8" r="2.55" fill="#ff0051"/>
<circle cx="447.9" cy="544.7" r="2.55" fill="#d9008c"/>
<circle cx="447.9" cy="548.6" r="2.55" fill="#aa17a7"/>
<circle cx="453.7" cy="540.8" r="2.55" fill="#6c54d6"/>
<circle cx="453.0" cy="544.7" r="2.55" fill="#6c54d6"/>
<circle cx="454.5" cy="548.6" r="2.55" fill="#aa17a7"/>
<circle cx="455.2" cy="544.7" r="2.55" fill="#8542c5"/>
<circle cx="464.7" cy="544.7" r="2.55" fill="#8542c5"/>
<circle cx="468.3" cy="540.8" r="2.55" fill="#6c54d6"/>
<circle cx="469.0" cy="544.7" r="2.55" fill="#aa17a7"/>
<circle cx="472.0" cy="540.8" r="2.55" fill="#aa17a7"/>
<circle cx="473.4" cy="544.7" r="2.55" fill="#aa17a7"/>
<circle cx="472.0" cy="548.6" r="2.55" fill="#d9008c"/>
<circle cx="475.6" cy="544.7" r="2.55" fill="#aa17a7"/>
<circle cx="486.8" cy="540.3" r="2.55" fill="#d9008c"/>
<circle cx="491.2" cy="540.3" r="2.55" fill="#d9008c"/>
<circle cx="486.8" cy="544.7" r="2.55" fill="#6c54d6"/>
<circle cx="491.2" cy="544.7" r="2.55" fill="#aa17a7"/>
<circle cx="496.3" cy="544.7" r="2.55" fill="#8542c5"/>
<circle cx="499.9" cy="544.7" r="2.55" fill="#8542c5"/>
<circle cx="504.3" cy="544.7" r="2.55" fill="#aa17a7"/>
<circle cx="507.2" cy="544.7" r="2.55" fill="#aa17a7"/>
<circle cx="513.1" cy="540.3" r="2.55" fill="#6c54d6"/>
<circle cx="513.8" cy="544.7" r="2.55" fill="#6c54d6"/>
<circle cx="520.4" cy="544.7" r="2.55" fill="#ff0051"/>
<circle cx="523.3" cy="544.7" r="2.55" fill="#6c54d6"/>
<circle cx="526.2" cy="544.7" r="2.55" fill="#8542c5"/>
<circle cx="529.9" cy="544.7" r="2.55" fill="#8542c5"/>
<circle cx="196.8" cy="587.4" r="2.55" fill="#008bfb"/>
<circle cx="200.1" cy="583.8" r="2.55" fill="#008bfb"/>
<circle cx="212.8" cy="587.4" r="2.55" fill="#008bfb"/>
<circle cx="214.3" cy="583.8" r="2.55" fill="#008bfb"/>
<circle cx="217.2" cy="587.4" r="2.55" fill="#008bfb"/>
<circle cx="221.6" cy="587.4" r="2.55" fill="#008bfb"/>
<circle cx="249.8" cy="587.4" r="2.55" fill="#008bfb"/>
<circle cx="251.2" cy="583.8" r="2.55" fill="#008bfb"/>
<circle cx="253.0" cy="587.4" r="2.55" fill="#008bfb"/>
<circle cx="251.2" cy="590.6" r="2.55" fill="#008bfb"/>
<circle cx="263.5" cy="583.8" r="2.55" fill="#008bfb"/>
<circle cx="263.5" cy="587.4" r="2.55" fill="#266cea"/>
<circle cx="274.2" cy="587.4" r="2.55" fill="#008bfb"/>
<circle cx="275.6" cy="583.8" r="2.55" fill="#008bfb"/>
<circle cx="284.6" cy="587.6" r="2.55" fill="#008bfb"/>
<circle cx="288.2" cy="587.6" r="2.55" fill="#266cea"/>
<circle cx="294.8" cy="587.6" r="2.55" fill="#008bfb"/>
<circle cx="299.2" cy="587.6" r="2.55" fill="#266cea"/>
<circle cx="313.8" cy="587.6" r="2.55" fill="#6c54d6"/>
<circle cx="317.4" cy="587.6" r="2.55" fill="#008bfb"/>
<circle cx="320.4" cy="584.0" r="2.55" fill="#6c54d6"/>
<circle cx="321.8" cy="587.6" r="2.55" fill="#008bfb"/>
<circle cx="331.3" cy="587.6" r="2.55" fill="#6c54d6"/>
<circle cx="335.0" cy="587.6" r="2.55" fill="#8542c5"/>
<circle cx="338.6" cy="587.6" r="2.55" fill="#8542c5"/>
<circle cx="351.0" cy="580.3" r="2.55" fill="#266cea"/>
<circle cx="349.6" cy="587.6" r="2.55" fill="#266cea"/>
<circle cx="353.2" cy="584.0" r="2.55" fill="#8542c5"/>
<circle cx="356.1" cy="584.0" r="2.55" fill="#8542c5"/>
<circle cx="353.9" cy="587.6" r="2.55" fill="#8542c5"/>
<circle cx="356.9" cy="587.6" r="2.55" fill="#266cea"/>
<circle cx="353.9" cy="591.3" r="2.55" fill="#8542c5"/>
<circle cx="363.4" cy="584.0" r="2.55" fill="#8542c5"/>
<circle cx="363.4" cy="587.6" r="2.55" fill="#ff0051"/>
<circle cx="366.4" cy="587.6" r="2.55" fill="#8542c5"/>
<circle cx="368.5" cy="584.0" r="2.55" fill="#266cea"/>
<circle cx="363.3" cy="588.0" r="2.55" fill="#ff0051"/>
<circle cx="364.6" cy="584.0" r="2.55" fill="#8542c5"/>
<circle cx="367.2" cy="587.3" r="2.55" fill="#6c54d6"/>
<circle cx="369.2" cy="584.0" r="2.55" fill="#266cea"/>
<circle cx="371.8" cy="587.3" r="2.55" fill="#8542c5"/>
<circle cx="375.8" cy="587.3" r="2.55" fill="#ff0051"/>
<circle cx="376.4" cy="584.0" r="2.55" fill="#6c54d6"/>
<circle cx="379.7" cy="584.7" r="2.55" fill="#d9008c"/>
<circle cx="381.0" cy="587.3" r="2.55" fill="#266cea"/>
<circle cx="383.0" cy="590.6" r="2.55" fill="#ff0051"/>
<circle cx="384.3" cy="584.0" r="2.55" fill="#266cea"/>
<circle cx="386.3" cy="587.3" r="2.55" fill="#8542c5"/>
<circle cx="390.2" cy="590.6" r="2.55" fill="#ff0051"/>
<circle cx="390.9" cy="584.0" r="2.55" fill="#266cea"/>
<circle cx="392.2" cy="587.3" r="2.55" fill="#266cea"/>
<circle cx="397.4" cy="581.4" r="2.55" fill="#6c54d6"/>
<circle cx="396.1" cy="587.3" r="2.55" fill="#6c54d6"/>
<circle cx="399.4" cy="590.6" r="2.55" fill="#8542c5"/>
<circle cx="400.7" cy="584.7" r="2.55" fill="#ff0051"/>
<circle cx="403.4" cy="587.3" r="2.55" fill="#8542c5"/>
<circle cx="405.3" cy="581.4" r="2.55" fill="#6c54d6"/>
<circle cx="405.3" cy="590.6" r="2.55" fill="#8542c5"/>
<circle cx="409.3" cy="587.3" r="2.55" fill="#6c54d6"/>
<circle cx="413.9" cy="584.7" r="2.55" fill="#6c54d6"/>
<circle cx="413.9" cy="588.0" r="2.55" fill="#ff0051"/>
<circle cx="419.1" cy="590.6" r="2.55" fill="#8542c5"/>
<circle cx="421.8" cy="578.1" r="2.55" fill="#d9008c"/>
<circle cx="425.0" cy="574.9" r="2.55" fill="#6c54d6"/>
<circle cx="421.8" cy="582.1" r="2.55" fill="#6c54d6"/>
<circle cx="423.1" cy="586.7" r="2.55" fill="#aa17a7"/>
<circle cx="423.1" cy="593.2" r="2.55" fill="#6c54d6"/>
<circle cx="424.4" cy="597.2" r="2.55" fill="#6c54d6"/>
<circle cx="427.7" cy="581.4" r="2.55" fill="#6c54d6"/>
<circle cx="428.3" cy="586.7" r="2.55" fill="#d9008c"/>
<circle cx="428.3" cy="590.6" r="2.55" fill="#266cea"/>
<circle cx="432.3" cy="584.0" r="2.55" fill="#d9008c"/>
<circle cx="432.9" cy="586.7" r="2.55" fill="#ff0051"/>
<circle cx="434.2" cy="588.0" r="2.55" fill="#d9008c"/>
<circle cx="437.5" cy="584.0" r="2.55" fill="#aa17a7"/>
<circle cx="438.8" cy="587.3" r="2.55" fill="#aa17a7"/>
<circle cx="445.4" cy="587.3" r="2.55" fill="#aa17a7"/>
<circle cx="448.0" cy="581.4" r="2.55" fill="#8542c5"/>
<circle cx="448.0" cy="593.2" r="2.55" fill="#aa17a7"/>
<circle cx="448.5" cy="581.4" r="2.55" fill="#8542c5"/>
<circle cx="449.2" cy="587.6" r="2.55" fill="#aa17a7"/>
<circle cx="448.5" cy="593.2" r="2.55" fill="#8542c5"/>
<circle cx="453.1" cy="584.7" r="2.55" fill="#aa17a7"/>
<circle cx="453.8" cy="588.0" r="2.55" fill="#d9008c"/>
<circle cx="454.5" cy="590.6" r="2.55" fill="#ff0051"/>
<circle cx="458.4" cy="584.7" r="2.55" fill="#d9008c"/>
<circle cx="459.1" cy="587.6" r="2.55" fill="#6c54d6"/>
<circle cx="464.3" cy="587.6" r="2.55" fill="#ff0051"/>
<circle cx="466.3" cy="587.6" r="2.55" fill="#ff0051"/>
<circle cx="467.6" cy="584.0" r="2.55" fill="#8542c5"/>
<circle cx="486.6" cy="587.6" r="2.55" fill="#aa17a7"/>
<circle cx="500.4" cy="587.6" r="2.55" fill="#aa17a7"/>
<circle cx="505.7" cy="587.6" r="2.55" fill="#aa17a7"/>
<circle cx="509.0" cy="587.6" r="2.55" fill="#aa17a7"/>
<circle cx="518.2" cy="587.6" r="2.55" fill="#aa17a7"/>
<circle cx="521.5" cy="587.6" r="2.55" fill="#aa17a7"/>
<circle cx="289.9" cy="630.3" r="2.55" fill="#008bfb"/>
<circle cx="299.1" cy="630.3" r="2.55" fill="#008bfb"/>
<circle cx="305.0" cy="625.7" r="2.55" fill="#008bfb"/>
<circle cx="303.6" cy="630.3" r="2.55" fill="#008bfb"/>
<circle cx="303.6" cy="634.3" r="2.55" fill="#008bfb"/>
<circle cx="312.2" cy="625.7" r="2.55" fill="#008bfb"/>
<circle cx="311.5" cy="630.3" r="2.55" fill="#008bfb"/>
<circle cx="315.5" cy="630.3" r="2.55" fill="#008bfb"/>
<circle cx="319.4" cy="630.3" r="2.55" fill="#008bfb"/>
<circle cx="320.7" cy="633.6" r="2.55" fill="#008bfb"/>
<circle cx="322.7" cy="625.7" r="2.55" fill="#008bfb"/>
<circle cx="324.0" cy="630.3" r="2.55" fill="#008bfb"/>
<circle cx="328.0" cy="625.7" r="2.55" fill="#008bfb"/>
<circle cx="328.6" cy="634.3" r="2.55" fill="#8542c5"/>
<circle cx="329.3" cy="630.3" r="2.55" fill="#008bfb"/>
<circle cx="333.2" cy="630.3" r="2.55" fill="#008bfb"/>
<circle cx="335.2" cy="625.7" r="2.55" fill="#008bfb"/>
<circle cx="337.8" cy="630.3" r="2.55" fill="#008bfb"/>
<circle cx="337.8" cy="634.3" r="2.55" fill="#008bfb"/>
<circle cx="339.1" cy="625.7" r="2.55" fill="#008bfb"/>
<circle cx="341.8" cy="630.3" r="2.55" fill="#008bfb"/>
<circle cx="345.0" cy="625.7" r="2.55" fill="#ff0051"/>
<circle cx="344.4" cy="630.3" r="2.55" fill="#008bfb"/>
<circle cx="349.6" cy="629.7" r="2.55" fill="#d9008c"/>
<circle cx="351.6" cy="621.8" r="2.55" fill="#008bfb"/>
<circle cx="353.6" cy="617.9" r="2.55" fill="#008bfb"/>
<circle cx="351.6" cy="625.7" r="2.55" fill="#008bfb"/>
<circle cx="351.6" cy="634.3" r="2.55" fill="#008bfb"/>
<circle cx="351.6" cy="638.2" r="2.55" fill="#008bfb"/>
<circle cx="354.9" cy="625.7" r="2.55" fill="#008bfb"/>
<circle cx="355.5" cy="630.3" r="2.55" fill="#008bfb"/>
<circle cx="354.9" cy="638.2" r="2.55" fill="#008bfb"/>
<circle cx="358.8" cy="621.8" r="2.55" fill="#8542c5"/>
<circle cx="359.5" cy="625.7" r="2.55" fill="#008bfb"/>
<circle cx="358.8" cy="630.3" r="2.55" fill="#266cea"/>
<circle cx="358.8" cy="634.3" r="2.55" fill="#008bfb"/>
<circle cx="360.8" cy="626.4" r="2.55" fill="#d9008c"/>
<circle cx="364.7" cy="621.8" r="2.55" fill="#008bfb"/>
<circle cx="365.4" cy="625.7" r="2.55" fill="#8542c5"/>
<circle cx="365.4" cy="630.3" r="2.55" fill="#8542c5"/>
<circle cx="366.1" cy="634.3" r="2.55" fill="#6c54d6"/>
<circle cx="366.7" cy="638.2" r="2.55" fill="#008bfb"/>
<circle cx="369.3" cy="621.8" r="2.55" fill="#d9008c"/>
<circle cx="353.6" cy="618.3" r="2.55" fill="#008bfb"/>
<circle cx="352.6" cy="622.4" r="2.55" fill="#008bfb"/>
<circle cx="351.0" cy="630.0" r="2.55" fill="#d9008c"/>
<circle cx="352.0" cy="634.1" r="2.55" fill="#008bfb"/>
<circle cx="353.1" cy="637.7" r="2.55" fill="#008bfb"/>
<circle cx="356.1" cy="626.5" r="2.55" fill="#008bfb"/>
<circle cx="356.1" cy="634.1" r="2.55" fill="#008bfb"/>
<circle cx="359.2" cy="621.9" r="2.55" fill="#8542c5"/>
<circle cx="360.2" cy="626.5" r="2.55" fill="#d9008c"/>
<circle cx="359.2" cy="630.5" r="2.55" fill="#266cea"/>
<circle cx="360.2" cy="634.6" r="2.55" fill="#008bfb"/>
<circle cx="364.8" cy="621.9" r="2.55" fill="#008bfb"/>
<circle cx="365.8" cy="626.5" r="2.55" fill="#6c54d6"/>
<circle cx="365.3" cy="630.5" r="2.55" fill="#6c54d6"/>
<circle cx="366.3" cy="634.6" r="2.55" fill="#008bfb"/>
<circle cx="366.9" cy="638.2" r="2.55" fill="#008bfb"/>
<circle cx="369.9" cy="622.4" r="2.55" fill="#aa17a7"/>
<circle cx="370.4" cy="626.5" r="2.55" fill="#6c54d6"/>
<circle cx="369.9" cy="630.5" r="2.55" fill="#6c54d6"/>
<circle cx="372.0" cy="634.1" r="2.55" fill="#008bfb"/>
<circle cx="373.5" cy="618.3" r="2.55" fill="#6c54d6"/>
<circle cx="375.5" cy="622.4" r="2.55" fill="#008bfb"/>
<circle cx="375.5" cy="626.5" r="2.55" fill="#6c54d6"/>
<circle cx="375.5" cy="630.5" r="2.55" fill="#aa17a7"/>
<circle cx="375.0" cy="634.1" r="2.55" fill="#d9008c"/>
<circle cx="374.0" cy="638.2" r="2.55" fill="#d9008c"/>
<circle cx="378.1" cy="630.0" r="2.55" fill="#8542c5"/>
<circle cx="380.7" cy="626.5" r="2.55" fill="#d9008c"/>
<circle cx="380.7" cy="630.5" r="2.55" fill="#8542c5"/>
<circle cx="380.7" cy="634.1" r="2.55" fill="#6c54d6"/>
<circle cx="382.7" cy="618.3" r="2.55" fill="#aa17a7"/>
<circle cx="382.7" cy="622.4" r="2.55" fill="#008bfb"/>
<circle cx="383.7" cy="626.5" r="2.55" fill="#008bfb"/>
<circle cx="383.7" cy="634.1" r="2.55" fill="#ff0051"/>
<circle cx="382.7" cy="637.7" r="2.55" fill="#6c54d6"/>
<circle cx="382.2" cy="641.8" r="2.55" fill="#008bfb"/>
<circle cx="386.8" cy="630.0" r="2.55" fill="#6c54d6"/>
<circle cx="390.9" cy="630.0" r="2.55" fill="#ff0051"/>
<circle cx="396.0" cy="626.5" r="2.55" fill="#008bfb"/>
<circle cx="399.6" cy="626.5" r="2.55" fill="#008bfb"/>
<circle cx="395.5" cy="630.0" r="2.55" fill="#d9008c"/>
<circle cx="398.0" cy="630.0" r="2.55" fill="#8542c5"/>
<circle cx="401.1" cy="630.0" r="2.55" fill="#8542c5"/>
<circle cx="405.2" cy="630.0" r="2.55" fill="#8542c5"/>
<circle cx="412.8" cy="622.4" r="2.55" fill="#d9008c"/>
<circle cx="411.3" cy="626.5" r="2.55" fill="#aa17a7"/>
<circle cx="412.3" cy="630.0" r="2.55" fill="#ff0051"/>
<circle cx="413.4" cy="634.1" r="2.55" fill="#8542c5"/>
<circle cx="413.4" cy="638.2" r="2.55" fill="#008bfb"/>
<circle cx="418.5" cy="630.0" r="2.55" fill="#d9008c"/>
<circle cx="419.2" cy="630.4" r="2.55" fill="#d9008c"/>
<circle cx="421.2" cy="626.4" r="2.55" fill="#d9008c"/>
<circle cx="423.1" cy="630.4" r="2.55" fill="#d9008c"/>
<circle cx="429.1" cy="626.4" r="2.55" fill="#8542c5"/>
<circle cx="431.0" cy="630.4" r="2.55" fill="#ff0051"/>
<circle cx="437.3" cy="630.4" r="2.55" fill="#d9008c"/>
<circle cx="452.7" cy="630.4" r="2.55" fill="#aa17a7"/>
<circle cx="456.0" cy="630.4" r="2.55" fill="#ff0051"/>
<circle cx="459.9" cy="630.4" r="2.55" fill="#aa17a7"/>
<circle cx="465.2" cy="630.4" r="2.55" fill="#ff0051"/>
<circle cx="468.5" cy="630.4" r="2.55" fill="#ff0051"/>
<circle cx="484.9" cy="626.4" r="2.55" fill="#d9008c"/>
<circle cx="486.9" cy="630.4" r="2.55" fill="#aa17a7"/>
<circle cx="521.3" cy="630.4" r="2.55" fill="#d9008c"/>
<circle cx="524.5" cy="630.4" r="2.55" fill="#aa17a7"/>
<circle cx="527.7" cy="630.4" r="2.55" fill="#aa17a7"/>
<circle cx="532.1" cy="630.4" r="2.55" fill="#d9008c"/>
<circle cx="546.5" cy="630.4" r="2.55" fill="#ff0051"/>
<circle cx="560.7" cy="630.4" r="2.55" fill="#ff0051"/>
<circle cx="581.5" cy="630.4" r="2.55" fill="#ff0051"/>
<circle cx="294.3" cy="673.0" r="2.55" fill="#008bfb"/>
<circle cx="301.4" cy="668.4" r="2.55" fill="#008bfb"/>
<circle cx="301.9" cy="673.0" r="2.55" fill="#008bfb"/>
<circle cx="305.4" cy="673.0" r="2.55" fill="#008bfb"/>
<circle cx="308.4" cy="673.0" r="2.55" fill="#008bfb"/>
<circle cx="314.2" cy="668.4" r="2.55" fill="#008bfb"/>
<circle cx="313.6" cy="673.0" r="2.55" fill="#008bfb"/>
<circle cx="316.0" cy="673.0" r="2.55" fill="#008bfb"/>
<circle cx="321.2" cy="668.4" r="2.55" fill="#008bfb"/>
<circle cx="321.8" cy="673.0" r="2.55" fill="#008bfb"/>
<circle cx="325.3" cy="668.4" r="2.55" fill="#d9008c"/>
<circle cx="325.3" cy="673.0" r="2.55" fill="#d9008c"/>
<circle cx="325.9" cy="677.1" r="2.55" fill="#008bfb"/>
<circle cx="328.8" cy="673.0" r="2.55" fill="#008bfb"/>
<circle cx="331.1" cy="673.0" r="2.55" fill="#266cea"/>
<circle cx="334.0" cy="673.0" r="2.55" fill="#008bfb"/>
<circle cx="339.9" cy="673.0" r="2.55" fill="#ff0051"/>
<circle cx="342.2" cy="673.0" r="2.55" fill="#ff0051"/>
<circle cx="345.1" cy="673.0" r="2.55" fill="#266cea"/>
<circle cx="348.7" cy="668.9" r="2.55" fill="#008bfb"/>
<circle cx="348.7" cy="673.6" r="2.55" fill="#008bfb"/>
<circle cx="349.2" cy="677.1" r="2.55" fill="#6c54d6"/>
<circle cx="352.7" cy="664.3" r="2.55" fill="#008bfb"/>
<circle cx="352.2" cy="669.5" r="2.55" fill="#d9008c"/>
<circle cx="353.3" cy="673.0" r="2.55" fill="#008bfb"/>
<circle cx="352.7" cy="677.1" r="2.55" fill="#d9008c"/>
<circle cx="353.9" cy="680.6" r="2.55" fill="#6c54d6"/>
<circle cx="355.7" cy="669.5" r="2.55" fill="#6c54d6"/>
<circle cx="356.8" cy="673.0" r="2.55" fill="#6c54d6"/>
<circle cx="359.2" cy="664.3" r="2.55" fill="#d9008c"/>
<circle cx="359.7" cy="673.0" r="2.55" fill="#008bfb"/>
<circle cx="359.7" cy="668.4" r="2.55" fill="#8542c5"/>
<circle cx="358.0" cy="677.1" r="2.55" fill="#6c54d6"/>
<circle cx="362.7" cy="680.6" r="2.55" fill="#ff0051"/>
<circle cx="363.2" cy="664.3" r="2.55" fill="#6c54d6"/>
<circle cx="363.2" cy="673.0" r="2.55" fill="#6c54d6"/>
<circle cx="356.6" cy="669.0" r="2.55" fill="#8542c5"/>
<circle cx="357.2" cy="673.0" r="2.55" fill="#8542c5"/>
<circle cx="356.6" cy="676.6" r="2.55" fill="#8542c5"/>
<circle cx="363.3" cy="664.3" r="2.55" fill="#6c54d6"/>
<circle cx="362.8" cy="669.0" r="2.55" fill="#aa17a7"/>
<circle cx="364.3" cy="673.0" r="2.55" fill="#008bfb"/>
<circle cx="363.3" cy="677.1" r="2.55" fill="#6c54d6"/>
<circle cx="363.3" cy="681.2" r="2.55" fill="#ff0051"/>
<circle cx="368.9" cy="664.3" r="2.55" fill="#008bfb"/>
<circle cx="368.4" cy="669.5" r="2.55" fill="#8542c5"/>
<circle cx="368.4" cy="673.0" r="2.55" fill="#8542c5"/>
<circle cx="368.4" cy="676.6" r="2.55" fill="#ff0051"/>
<circle cx="372.0" cy="669.0" r="2.55" fill="#008bfb"/>
<circle cx="373.0" cy="676.6" r="2.55" fill="#008bfb"/>
<circle cx="375.5" cy="669.5" r="2.55" fill="#ff0051"/>
<circle cx="376.6" cy="673.0" r="2.55" fill="#d9008c"/>
<circle cx="380.1" cy="665.4" r="2.55" fill="#008bfb"/>
<circle cx="380.7" cy="669.5" r="2.55" fill="#6c54d6"/>
<circle cx="380.7" cy="677.1" r="2.55" fill="#d9008c"/>
<circle cx="382.2" cy="680.7" r="2.55" fill="#6c54d6"/>
<circle cx="385.8" cy="661.3" r="2.55" fill="#8542c5"/>
<circle cx="384.2" cy="669.0" r="2.55" fill="#d9008c"/>
<circle cx="385.8" cy="673.0" r="2.55" fill="#8542c5"/>
<circle cx="386.3" cy="677.1" r="2.55" fill="#008bfb"/>
<circle cx="387.3" cy="680.7" r="2.55" fill="#008bfb"/>
<circle cx="388.8" cy="665.4" r="2.55" fill="#8542c5"/>
<circle cx="389.3" cy="669.0" r="2.55" fill="#8542c5"/>
<circle cx="390.4" cy="677.1" r="2.55" fill="#8542c5"/>
<circle cx="392.9" cy="669.0" r="2.55" fill="#d9008c"/>
<circle cx="395.5" cy="673.0" r="2.55" fill="#008bfb"/>
<circle cx="399.0" cy="673.0" r="2.55" fill="#8542c5"/>
<circle cx="403.1" cy="669.0" r="2.55" fill="#008bfb"/>
<circle cx="402.1" cy="677.1" r="2.55" fill="#6c54d6"/>
<circle cx="406.2" cy="669.0" r="2.55" fill="#8542c5"/>
<circle cx="407.2" cy="673.0" r="2.55" fill="#aa17a7"/>
<circle cx="411.3" cy="673.0" r="2.55" fill="#aa17a7"/>
<circle cx="415.9" cy="673.0" r="2.55" fill="#ff0051"/>
<circle cx="417.9" cy="672.8" r="2.55" fill="#008bfb"/>
<circle cx="423.8" cy="672.8" r="2.55" fill="#ff0051"/>
<circle cx="427.1" cy="672.8" r="2.55" fill="#ff0051"/>
<circle cx="433.7" cy="672.8" r="2.55" fill="#d9008c"/>
<circle cx="437.6" cy="669.1" r="2.55" fill="#d9008c"/>
<circle cx="438.2" cy="672.8" r="2.55" fill="#d9008c"/>
<circle cx="438.2" cy="676.3" r="2.55" fill="#d9008c"/>
<circle cx="440.9" cy="672.8" r="2.55" fill="#d9008c"/>
<circle cx="462.6" cy="672.8" r="2.55" fill="#ff0051"/>
<circle cx="467.5" cy="672.8" r="2.55" fill="#ff0051"/>
<circle cx="477.0" cy="672.8" r="2.55" fill="#ff0051"/>
<circle cx="490.8" cy="672.8" r="2.55" fill="#ff0051"/>
<circle cx="381.1" cy="664.4" r="2.55" fill="#008bfb"/>
<circle cx="381.1" cy="668.4" r="2.55" fill="#6c54d6"/>
<circle cx="380.0" cy="673.5" r="2.55" fill="#d9008c"/>
<circle cx="383.5" cy="673.0" r="2.55" fill="#6c54d6"/>
<circle cx="389.2" cy="673.5" r="2.55" fill="#6c54d6"/>
<circle cx="392.3" cy="673.5" r="2.55" fill="#8542c5"/>
<circle cx="286.7" cy="715.8" r="2.55" fill="#ff0051"/>
<circle cx="294.9" cy="715.8" r="2.55" fill="#ff0051"/>
<circle cx="297.8" cy="711.7" r="2.55" fill="#ff0051"/>
<circle cx="298.4" cy="715.8" r="2.55" fill="#aa17a7"/>
<circle cx="297.8" cy="719.3" r="2.55" fill="#ff0051"/>
<circle cx="302.4" cy="715.8" r="2.55" fill="#ff0051"/>
<circle cx="306.5" cy="715.8" r="2.55" fill="#d9008c"/>
<circle cx="311.8" cy="715.8" r="2.55" fill="#d9008c"/>
<circle cx="322.3" cy="711.7" r="2.55" fill="#d9008c"/>
<circle cx="322.9" cy="715.8" r="2.55" fill="#aa17a7"/>
<circle cx="328.1" cy="715.8" r="2.55" fill="#ff0051"/>
<circle cx="338.6" cy="715.8" r="2.55" fill="#ff0051"/>
<circle cx="341.6" cy="715.8" r="2.55" fill="#ff0051"/>
<circle cx="345.1" cy="715.8" r="2.55" fill="#6c54d6"/>
<circle cx="348.6" cy="711.7" r="2.55" fill="#ff0051"/>
<circle cx="350.3" cy="708.2" r="2.55" fill="#6c54d6"/>
<circle cx="349.2" cy="715.8" r="2.55" fill="#d9008c"/>
<circle cx="349.2" cy="719.3" r="2.55" fill="#d9008c"/>
<circle cx="353.2" cy="715.8" r="2.55" fill="#008bfb"/>
<circle cx="345.5" cy="715.5" r="2.55" fill="#6c54d6"/>
<circle cx="350.6" cy="708.9" r="2.55" fill="#6c54d6"/>
<circle cx="349.1" cy="712.5" r="2.55" fill="#ff0051"/>
<circle cx="349.1" cy="716.1" r="2.55" fill="#ff0051"/>
<circle cx="349.1" cy="719.1" r="2.55" fill="#d9008c"/>
<circle cx="353.2" cy="715.5" r="2.55" fill="#008bfb"/>
<circle cx="358.3" cy="708.9" r="2.55" fill="#ff0051"/>
<circle cx="357.3" cy="712.5" r="2.55" fill="#6c54d6"/>
<circle cx="358.3" cy="716.1" r="2.55" fill="#ff0051"/>
<circle cx="358.3" cy="719.1" r="2.55" fill="#aa17a7"/>
<circle cx="362.4" cy="712.5" r="2.55" fill="#ff0051"/>
<circle cx="362.9" cy="718.6" r="2.55" fill="#008bfb"/>
<circle cx="364.9" cy="715.5" r="2.55" fill="#008bfb"/>
<circle cx="370.5" cy="702.8" r="2.55" fill="#aa17a7"/>
<circle cx="370.0" cy="707.9" r="2.55" fill="#6c54d6"/>
<circle cx="368.5" cy="712.0" r="2.55" fill="#d9008c"/>
<circle cx="369.5" cy="715.5" r="2.55" fill="#aa17a7"/>
<circle cx="368.5" cy="719.1" r="2.55" fill="#6c54d6"/>
<circle cx="370.0" cy="722.2" r="2.55" fill="#d9008c"/>
<circle cx="371.6" cy="725.3" r="2.55" fill="#d9008c"/>
<circle cx="375.7" cy="715.5" r="2.55" fill="#6c54d6"/>
<circle cx="375.7" cy="719.1" r="2.55" fill="#008bfb"/>
<circle cx="377.7" cy="708.9" r="2.55" fill="#266cea"/>
<circle cx="378.2" cy="713.0" r="2.55" fill="#266cea"/>
<circle cx="378.7" cy="716.6" r="2.55" fill="#d9008c"/>
<circle cx="381.3" cy="708.9" r="2.55" fill="#266cea"/>
<circle cx="381.3" cy="713.0" r="2.55" fill="#6c54d6"/>
<circle cx="381.3" cy="717.1" r="2.55" fill="#266cea"/>
<circle cx="380.3" cy="721.7" r="2.55" fill="#008bfb"/>
<circle cx="382.8" cy="714.5" r="2.55" fill="#6c54d6"/>
<circle cx="385.9" cy="715.5" r="2.55" fill="#d9008c"/>
<circle cx="388.9" cy="708.9" r="2.55" fill="#008bfb"/>
<circle cx="390.0" cy="713.0" r="2.55" fill="#008bfb"/>
<circle cx="390.0" cy="718.6" r="2.55" fill="#8542c5"/>
<circle cx="393.5" cy="705.8" r="2.55" fill="#008bfb"/>
<circle cx="393.5" cy="709.9" r="2.55" fill="#8542c5"/>
<circle cx="393.0" cy="713.0" r="2.55" fill="#6c54d6"/>
<circle cx="393.0" cy="717.1" r="2.55" fill="#008bfb"/>
<circle cx="394.0" cy="721.2" r="2.55" fill="#008bfb"/>
<circle cx="393.5" cy="725.3" r="2.55" fill="#6c54d6"/>
<circle cx="397.1" cy="712.5" r="2.55" fill="#008bfb"/>
<circle cx="398.1" cy="715.5" r="2.55" fill="#008bfb"/>
<circle cx="400.2" cy="715.5" r="2.55" fill="#008bfb"/>
<circle cx="402.7" cy="712.0" r="2.55" fill="#008bfb"/>
<circle cx="402.2" cy="715.5" r="2.55" fill="#aa17a7"/>
<circle cx="403.8" cy="719.1" r="2.55" fill="#d9008c"/>
<circle cx="406.3" cy="715.5" r="2.55" fill="#8542c5"/>
<circle cx="408.9" cy="712.0" r="2.55" fill="#008bfb"/>
<circle cx="408.4" cy="718.6" r="2.55" fill="#008bfb"/>
<circle cx="410.9" cy="715.5" r="2.55" fill="#8542c5"/>
<circle cx="414.0" cy="715.5" r="2.55" fill="#008bfb"/>
<circle cx="403.1" cy="711.9" r="2.55" fill="#008bfb"/>
<circle cx="403.1" cy="716.0" r="2.55" fill="#aa17a7"/>
<circle cx="403.6" cy="719.5" r="2.55" fill="#d9008c"/>
<circle cx="406.1" cy="716.0" r="2.55" fill="#6c54d6"/>
<circle cx="408.7" cy="711.9" r="2.55" fill="#008bfb"/>
<circle cx="408.2" cy="719.0" r="2.55" fill="#008bfb"/>
<circle cx="410.7" cy="716.0" r="2.55" fill="#d9008c"/>
<circle cx="413.3" cy="716.0" r="2.55" fill="#266cea"/>
<circle cx="415.8" cy="716.0" r="2.55" fill="#266cea"/>
<circle cx="418.9" cy="711.9" r="2.55" fill="#008bfb"/>
<circle cx="419.9" cy="716.0" r="2.55" fill="#6c54d6"/>
<circle cx="429.1" cy="711.9" r="2.55" fill="#008bfb"/>
<circle cx="430.1" cy="716.0" r="2.55" fill="#008bfb"/>
<circle cx="441.9" cy="716.0" r="2.55" fill="#008bfb"/>
<circle cx="449.0" cy="716.0" r="2.55" fill="#008bfb"/>
<circle cx="310.2" cy="758.5" r="2.55" fill="#008bfb"/>
<circle cx="313.3" cy="758.5" r="2.55" fill="#008bfb"/>
<circle cx="316.3" cy="758.5" r="2.55" fill="#008bfb"/>
<circle cx="320.9" cy="751.4" r="2.55" fill="#008bfb"/>
<circle cx="320.9" cy="754.9" r="2.55" fill="#008bfb"/>
<circle cx="319.4" cy="758.5" r="2.55" fill="#008bfb"/>
<circle cx="321.5" cy="762.1" r="2.55" fill="#008bfb"/>
<circle cx="323.5" cy="758.5" r="2.55" fill="#008bfb"/>
<circle cx="328.6" cy="758.5" r="2.55" fill="#008bfb"/>
<circle cx="335.3" cy="754.9" r="2.55" fill="#ff0051"/>
<circle cx="338.8" cy="754.9" r="2.55" fill="#ff0051"/>
<circle cx="335.3" cy="759.0" r="2.55" fill="#008bfb"/>
<circle cx="337.3" cy="759.0" r="2.55" fill="#266cea"/>
<circle cx="340.9" cy="759.0" r="2.55" fill="#008bfb"/>
<circle cx="344.5" cy="758.5" r="2.55" fill="#ff0051"/>
<circle cx="347.0" cy="758.5" r="2.55" fill="#d9008c"/>
<circle cx="352.1" cy="758.5" r="2.55" fill="#ff0051"/>
<circle cx="356.7" cy="758.5" r="2.55" fill="#266cea"/>
<circle cx="357.7" cy="755.4" r="2.55" fill="#aa17a7"/>
<circle cx="357.7" cy="762.1" r="2.55" fill="#aa17a7"/>
<circle cx="362.8" cy="754.9" r="2.55" fill="#008bfb"/>
<circle cx="361.3" cy="758.5" r="2.55" fill="#aa17a7"/>
<circle cx="363.4" cy="761.6" r="2.55" fill="#008bfb"/>
<circle cx="364.9" cy="751.4" r="2.55" fill="#8542c5"/>
<circle cx="365.4" cy="765.1" r="2.55" fill="#d9008c"/>
<circle cx="368.0" cy="768.2" r="2.55" fill="#8542c5"/>
<circle cx="368.5" cy="748.3" r="2.55" fill="#8542c5"/>
<circle cx="368.5" cy="755.4" r="2.55" fill="#d9008c"/>
<circle cx="358.1" cy="754.0" r="2.55" fill="#d9008c"/>
<circle cx="357.6" cy="758.1" r="2.55" fill="#266cea"/>
<circle cx="357.6" cy="761.6" r="2.55" fill="#aa17a7"/>
<circle cx="362.7" cy="755.0" r="2.55" fill="#008bfb"/>
<circle cx="364.2" cy="750.9" r="2.55" fill="#8542c5"/>
<circle cx="363.7" cy="761.6" r="2.55" fill="#008bfb"/>
<circle cx="365.2" cy="764.7" r="2.55" fill="#d9008c"/>
<circle cx="369.3" cy="748.3" r="2.55" fill="#8542c5"/>
<circle cx="369.3" cy="755.0" r="2.55" fill="#ff0051"/>
<circle cx="366.2" cy="758.1" r="2.55" fill="#d9008c"/>
<circle cx="368.8" cy="761.6" r="2.55" fill="#8542c5"/>
<circle cx="368.3" cy="767.8" r="2.55" fill="#8542c5"/>
<circle cx="373.9" cy="745.3" r="2.55" fill="#d9008c"/>
<circle cx="373.9" cy="750.9" r="2.55" fill="#8542c5"/>
<circle cx="373.4" cy="755.0" r="2.55" fill="#008bfb"/>
<circle cx="372.4" cy="758.1" r="2.55" fill="#d9008c"/>
<circle cx="373.9" cy="761.6" r="2.55" fill="#8542c5"/>
<circle cx="373.9" cy="764.7" r="2.55" fill="#008bfb"/>
<circle cx="373.9" cy="767.8" r="2.55" fill="#6c54d6"/>
<circle cx="379.0" cy="750.9" r="2.55" fill="#ff0051"/>
<circle cx="376.5" cy="758.1" r="2.55" fill="#6c54d6"/>
<circle cx="379.5" cy="754.5" r="2.55" fill="#008bfb"/>
<circle cx="379.0" cy="761.6" r="2.55" fill="#008bfb"/>
<circle cx="379.5" cy="764.7" r="2.55" fill="#008bfb"/>
<circle cx="381.6" cy="755.0" r="2.55" fill="#008bfb"/>
<circle cx="382.1" cy="759.1" r="2.55" fill="#008bfb"/>
<circle cx="385.1" cy="748.3" r="2.55" fill="#008bfb"/>
<circle cx="385.7" cy="752.4" r="2.55" fill="#ff0051"/>
<circle cx="385.1" cy="758.1" r="2.55" fill="#266cea"/>
<circle cx="386.2" cy="761.6" r="2.55" fill="#008bfb"/>
<circle cx="385.7" cy="764.7" r="2.55" fill="#ff0051"/>
<circle cx="389.7" cy="750.9" r="2.55" fill="#008bfb"/>
<circle cx="389.2" cy="758.1" r="2.55" fill="#008bfb"/>
<circle cx="390.3" cy="761.6" r="2.55" fill="#ff0051"/>
<circle cx="391.8" cy="755.0" r="2.55" fill="#d9008c"/>
<circle cx="393.3" cy="758.1" r="2.55" fill="#ff0051"/>
<circle cx="396.9" cy="755.0" r="2.55" fill="#6c54d6"/>
<circle cx="398.4" cy="758.1" r="2.55" fill="#6c54d6"/>
<circle cx="396.9" cy="761.6" r="2.55" fill="#ff0051"/>
<circle cx="400.0" cy="755.0" r="2.55" fill="#6c54d6"/>
<circle cx="404.0" cy="758.6" r="2.55" fill="#008bfb"/>
<circle cx="406.1" cy="754.5" r="2.55" fill="#8542c5"/>
<circle cx="409.2" cy="754.5" r="2.55" fill="#8542c5"/>
<circle cx="408.1" cy="758.6" r="2.55" fill="#d9008c"/>
<circle cx="410.7" cy="758.6" r="2.55" fill="#aa17a7"/>
<circle cx="413.2" cy="758.6" r="2.55" fill="#aa17a7"/>
<circle cx="415.3" cy="758.6" r="2.55" fill="#ff0051"/>
<circle cx="421.4" cy="758.4" r="2.55" fill="#008bfb"/>
<circle cx="361.1" cy="759.1" r="2.55" fill="#8542c5"/>
<circle cx="370.3" cy="751.9" r="2.55" fill="#aa17a7"/>
<circle cx="375.4" cy="761.6" r="2.55" fill="#266cea"/>
<circle cx="382.6" cy="762.7" r="2.55" fill="#008bfb"/>
<circle cx="387.7" cy="755.0" r="2.55" fill="#8542c5"/>
<circle cx="429.3" cy="758.6" r="2.55" fill="#ff0051"/>
<circle cx="433.0" cy="758.6" r="2.55" fill="#008bfb"/>
<line x1="99.8" y1="802.0" x2="604.7" y2="802.0" stroke="#333333" stroke-width="1.4"/>
<line x1="120.00" y1="802.0" x2="120.00" y2="806.5" stroke="#333333" stroke-width="1"/>
<text x="99.08" y="822.30" font-size="15.2" fill="#2a2a2a" textLength="41.27" lengthAdjust="spacingAndGlyphs">−0.20</text>
<line x1="184.60" y1="802.0" x2="184.60" y2="806.5" stroke="#333333" stroke-width="1"/>
<text x="163.68" y="822.30" font-size="15.2" fill="#2a2a2a" textLength="41.27" lengthAdjust="spacingAndGlyphs">−0.15</text>
<line x1="249.20" y1="802.0" x2="249.20" y2="806.5" stroke="#333333" stroke-width="1"/>
<text x="228.28" y="822.30" font-size="15.2" fill="#2a2a2a" textLength="41.27" lengthAdjust="spacingAndGlyphs">−0.10</text>
<line x1="313.80" y1="802.0" x2="313.80" y2="806.5" stroke="#333333" stroke-width="1"/>
<text x="292.88" y="822.30" font-size="15.2" fill="#2a2a2a" textLength="41.27" lengthAdjust="spacingAndGlyphs">−0.05</text>
<line x1="378.40" y1="802.0" x2="378.40" y2="806.5" stroke="#333333" stroke-width="1"/>
<text x="362.35" y="822.30" font-size="15.2" fill="#2a2a2a" textLength="31.73" lengthAdjust="spacingAndGlyphs">0.00</text>
<line x1="443.00" y1="802.0" x2="443.00" y2="806.5" stroke="#333333" stroke-width="1"/>
<text x="426.95" y="822.30" font-size="15.2" fill="#2a2a2a" textLength="31.73" lengthAdjust="spacingAndGlyphs">0.05</text>
<line x1="507.60" y1="802.0" x2="507.60" y2="806.5" stroke="#333333" stroke-width="1"/>
<text x="491.55" y="822.30" font-size="15.2" fill="#2a2a2a" textLength="31.73" lengthAdjust="spacingAndGlyphs">0.10</text>
<line x1="572.20" y1="802.0" x2="572.20" y2="806.5" stroke="#333333" stroke-width="1"/>
<text x="556.15" y="822.30" font-size="15.2" fill="#2a2a2a" textLength="31.73" lengthAdjust="spacingAndGlyphs">0.15</text>
<text x="192.16" y="845.00" font-size="16.6" fill="#222222" textLength="44.92" lengthAdjust="spacingAndGlyphs">SHAP</text>
<text x="243.41" y="845.00" font-size="16.6" fill="#222222" textLength="44.95" lengthAdjust="spacingAndGlyphs">value</text>
<text x="294.72" y="845.00" font-size="16.6" fill="#222222" textLength="64.65" lengthAdjust="spacingAndGlyphs">(impact</text>
<text x="363.67" y="845.00" font-size="16.6" fill="#222222" textLength="23.13" lengthAdjust="spacingAndGlyphs">on</text>
<text x="390.93" y="845.00" font-size="16.6" fill="#222222" textLength="53.42" lengthAdjust="spacingAndGlyphs">model</text>
<text x="449.71" y="845.00" font-size="16.6" fill="#222222" textLength="61.54" lengthAdjust="spacingAndGlyphs">output)</text>
<text x="39.19" y="507.50" font-size="15.8" fill="#111111" textLength="23.31" lengthAdjust="spacingAndGlyphs">GP</text>
<text x="19.83" y="550.00" font-size="15.8" fill="#111111" textLength="61.19" lengthAdjust="spacingAndGlyphs">Cement</text>
<text x="34.91" y="591.60" font-size="15.8" fill="#111111" textLength="32.20" lengthAdjust="spacingAndGlyphs">W/B</text>
<text x="42.61" y="634.40" font-size="15.8" fill="#111111" textLength="16.15" lengthAdjust="spacingAndGlyphs">W</text>
<text x="35.57" y="676.10" font-size="15.8" fill="#111111" textLength="29.95" lengthAdjust="spacingAndGlyphs">PPF</text>
<text x="40.83" y="717.90" font-size="15.8" fill="#111111" textLength="19.44" lengthAdjust="spacingAndGlyphs">FF</text>
<text x="40.19" y="760.20" font-size="15.8" fill="#111111" textLength="21.06" lengthAdjust="spacingAndGlyphs">SP</text>
<text transform="translate(13.90,708.90) rotate(-90)" x="-1.11" y="0" font-size="17.2" font-weight="bold" fill="#000" textLength="120.54" lengthAdjust="spacingAndGlyphs">Input variables</text>
<rect x="636.2" y="459.6" width="3.9" height="341.79999999999995" fill="url(#cbg)"/>
<text x="644.61" y="465.40" font-size="16.4" fill="#1a1a1a" textLength="33.17" lengthAdjust="spacingAndGlyphs">High</text>
<text x="644.62" y="807.70" font-size="16.4" fill="#1a1a1a" textLength="27.07" lengthAdjust="spacingAndGlyphs">Low</text>
<text transform="translate(683.80,698.70) rotate(-90)" x="-1.11" y="0" font-size="17.2" font-weight="bold" fill="#000" textLength="110.25" lengthAdjust="spacingAndGlyphs">Feature value</text>
<text x="333.55" y="420.20" font-size="18.6" fill="#000" textLength="21.45" lengthAdjust="spacingAndGlyphs">(a)</text>
<text x="333.11" y="896.30" font-size="18.4" fill="#000" textLength="22.22" lengthAdjust="spacingAndGlyphs">(b)</text>
<path d="M336.5 455.5 L339.5 452.8" stroke="#222" stroke-width="1.3"/>
<line x1="434.3" y1="454.6" x2="442.5" y2="454.6" stroke="#222" stroke-width="1.4"/>
</g>
</svg>
</body></html>
